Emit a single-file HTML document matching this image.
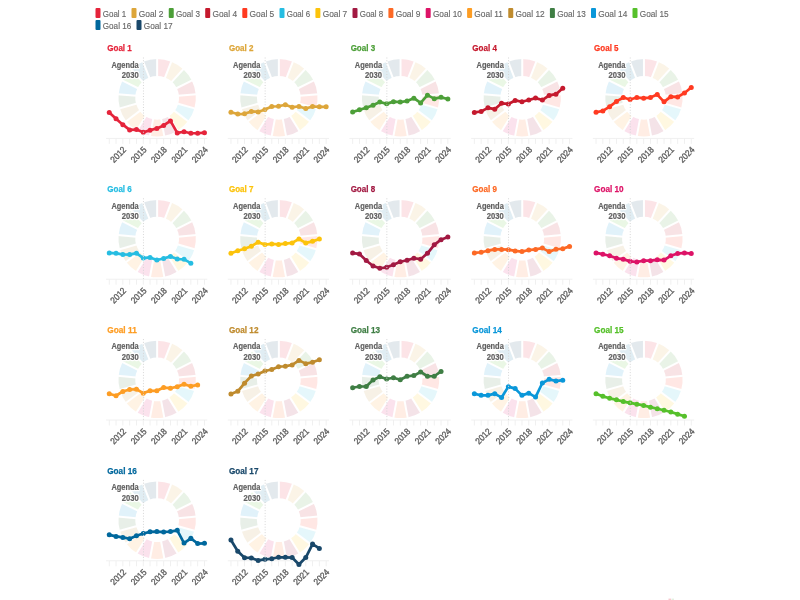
<!DOCTYPE html><html><head><meta charset="utf-8"><style>
html,body{margin:0;padding:0;background:#fff;width:800px;height:600px;overflow:hidden}
svg{display:block;filter:blur(0.45px)}
text{font-family:"Liberation Sans",sans-serif}
.ti{font-size:9px;font-weight:bold;stroke-width:0.25px}
.agh{font-size:8.6px;font-weight:bold;fill:#fff;stroke:#fff;stroke-width:2.5px;stroke-linejoin:round}
.ag{font-size:8.6px;font-weight:bold;fill:#626262;stroke:#626262;stroke-width:0.2px}
.yl{font-size:9px;fill:#5e5e5e;stroke:#5e5e5e;stroke-width:0.35px}
.lg{font-size:9.6px;fill:#686868;stroke:#686868;stroke-width:0.15px}
</style></head><body><svg width="800" height="600" viewBox="0 0 800 600"><rect x="95.5" y="8" width="5" height="10" rx="1" fill="#E5243B"/><text class="lg" x="102.75" y="17.2" textLength="23.5" lengthAdjust="spacingAndGlyphs">Goal 1</text><rect x="131.5" y="8" width="5" height="10" rx="1" fill="#DDA63A"/><text class="lg" x="138.75" y="17.2" textLength="24.75" lengthAdjust="spacingAndGlyphs">Goal 2</text><rect x="168.75" y="8" width="5" height="10" rx="1" fill="#4C9F38"/><text class="lg" x="176" y="17.2" textLength="23.95" lengthAdjust="spacingAndGlyphs">Goal 3</text><rect x="205.2" y="8" width="5" height="10" rx="1" fill="#C5192D"/><text class="lg" x="212.45" y="17.2" textLength="24.6" lengthAdjust="spacingAndGlyphs">Goal 4</text><rect x="242.3" y="8" width="5" height="10" rx="1" fill="#FF3A21"/><text class="lg" x="249.55" y="17.2" textLength="24.7" lengthAdjust="spacingAndGlyphs">Goal 5</text><rect x="279.5" y="8" width="5" height="10" rx="1" fill="#26BDE2"/><text class="lg" x="286.75" y="17.2" textLength="23.4" lengthAdjust="spacingAndGlyphs">Goal 6</text><rect x="315.4" y="8" width="5" height="10" rx="1" fill="#FCC30B"/><text class="lg" x="322.65" y="17.2" textLength="24.6" lengthAdjust="spacingAndGlyphs">Goal 7</text><rect x="352.5" y="8" width="5" height="10" rx="1" fill="#A21942"/><text class="lg" x="359.75" y="17.2" textLength="23.4" lengthAdjust="spacingAndGlyphs">Goal 8</text><rect x="388.4" y="8" width="5" height="10" rx="1" fill="#FD6925"/><text class="lg" x="395.65" y="17.2" textLength="24.8" lengthAdjust="spacingAndGlyphs">Goal 9</text><rect x="425.7" y="8" width="5" height="10" rx="1" fill="#DD1367"/><text class="lg" x="432.95" y="17.2" textLength="28.9" lengthAdjust="spacingAndGlyphs">Goal 10</text><rect x="467.1" y="8" width="5" height="10" rx="1" fill="#FD9D24"/><text class="lg" x="474.35" y="17.2" textLength="28.65" lengthAdjust="spacingAndGlyphs">Goal 11</text><rect x="508.25" y="8" width="5" height="10" rx="1" fill="#BF8B2E"/><text class="lg" x="515.5" y="17.2" textLength="29.15" lengthAdjust="spacingAndGlyphs">Goal 12</text><rect x="549.9" y="8" width="5" height="10" rx="1" fill="#3F7E44"/><text class="lg" x="557.15" y="17.2" textLength="28.6" lengthAdjust="spacingAndGlyphs">Goal 13</text><rect x="591" y="8" width="5" height="10" rx="1" fill="#0A97D9"/><text class="lg" x="598.25" y="17.2" textLength="29" lengthAdjust="spacingAndGlyphs">Goal 14</text><rect x="632.5" y="8" width="5" height="10" rx="1" fill="#56C02B"/><text class="lg" x="639.75" y="17.2" textLength="28.9" lengthAdjust="spacingAndGlyphs">Goal 15</text><rect x="95.5" y="20" width="5" height="10" rx="1" fill="#00689D"/><text class="lg" x="102.75" y="29.2" textLength="28.5" lengthAdjust="spacingAndGlyphs">Goal 16</text><rect x="136.5" y="20" width="5" height="10" rx="1" fill="#19486A"/><text class="lg" x="143.75" y="29.2" textLength="28.9" lengthAdjust="spacingAndGlyphs">Goal 17</text><path d="M157.15 59.1A38.7 38.7 0 0 1 171.13 61.71L165.06 77.38A21.9 21.9 0 0 0 157.15 75.9Z" fill="#E5243B" fill-opacity="0.12"/><path d="M171.13 61.71A38.7 38.7 0 0 1 183.22 69.2L171.9 81.62A21.9 21.9 0 0 0 165.06 77.38Z" fill="#DDA63A" fill-opacity="0.12"/><path d="M183.22 69.2A38.7 38.7 0 0 1 191.79 80.55L176.75 88.04A21.9 21.9 0 0 0 171.9 81.62Z" fill="#4C9F38" fill-opacity="0.12"/><path d="M191.79 80.55A38.7 38.7 0 0 1 195.68 94.23L178.96 95.78A21.9 21.9 0 0 0 176.75 88.04Z" fill="#C5192D" fill-opacity="0.12"/><path d="M195.68 94.23A38.7 38.7 0 0 1 194.37 108.39L178.21 103.79A21.9 21.9 0 0 0 178.96 95.78Z" fill="#FF3A21" fill-opacity="0.12"/><path d="M194.37 108.39A38.7 38.7 0 0 1 188.03 121.12L174.63 111A21.9 21.9 0 0 0 178.21 103.79Z" fill="#26BDE2" fill-opacity="0.12"/><path d="M188.03 121.12A38.7 38.7 0 0 1 177.52 130.7L168.68 116.42A21.9 21.9 0 0 0 174.63 111Z" fill="#FCC30B" fill-opacity="0.12"/><path d="M177.52 130.7A38.7 38.7 0 0 1 164.26 135.84L161.17 119.33A21.9 21.9 0 0 0 168.68 116.42Z" fill="#A21942" fill-opacity="0.12"/><path d="M164.26 135.84A38.7 38.7 0 0 1 150.04 135.84L153.13 119.33A21.9 21.9 0 0 0 161.17 119.33Z" fill="#FD6925" fill-opacity="0.12"/><path d="M150.04 135.84A38.7 38.7 0 0 1 136.78 130.7L145.62 116.42A21.9 21.9 0 0 0 153.13 119.33Z" fill="#DD1367" fill-opacity="0.12"/><path d="M136.78 130.7A38.7 38.7 0 0 1 126.27 121.12L139.67 111A21.9 21.9 0 0 0 145.62 116.42Z" fill="#FD9D24" fill-opacity="0.12"/><path d="M126.27 121.12A38.7 38.7 0 0 1 119.93 108.39L136.09 103.79A21.9 21.9 0 0 0 139.67 111Z" fill="#BF8B2E" fill-opacity="0.12"/><path d="M119.93 108.39A38.7 38.7 0 0 1 118.62 94.23L135.34 95.78A21.9 21.9 0 0 0 136.09 103.79Z" fill="#3F7E44" fill-opacity="0.12"/><path d="M118.62 94.23A38.7 38.7 0 0 1 122.51 80.55L137.55 88.04A21.9 21.9 0 0 0 135.34 95.78Z" fill="#0A97D9" fill-opacity="0.12"/><path d="M122.51 80.55A38.7 38.7 0 0 1 131.08 69.2L142.4 81.62A21.9 21.9 0 0 0 137.55 88.04Z" fill="#56C02B" fill-opacity="0.12"/><path d="M131.08 69.2A38.7 38.7 0 0 1 143.17 61.71L149.24 77.38A21.9 21.9 0 0 0 142.4 81.62Z" fill="#00689D" fill-opacity="0.12"/><path d="M143.17 61.71A38.7 38.7 0 0 1 157.15 59.1L157.15 75.9A21.9 21.9 0 0 0 149.24 77.38Z" fill="#19486A" fill-opacity="0.12"/><line x1="157.15" y1="76.9" x2="157.15" y2="58.1" stroke="#fff" stroke-width="2.0"/><line x1="164.7" y1="78.31" x2="171.49" y2="60.78" stroke="#fff" stroke-width="2.0"/><line x1="171.23" y1="82.35" x2="183.9" y2="68.46" stroke="#fff" stroke-width="2.0"/><line x1="175.86" y1="88.48" x2="192.69" y2="80.1" stroke="#fff" stroke-width="2.0"/><line x1="177.96" y1="95.87" x2="196.68" y2="94.14" stroke="#fff" stroke-width="2.0"/><line x1="177.25" y1="103.52" x2="195.33" y2="108.66" stroke="#fff" stroke-width="2.0"/><line x1="173.83" y1="110.4" x2="188.83" y2="121.72" stroke="#fff" stroke-width="2.0"/><line x1="168.15" y1="115.57" x2="178.05" y2="131.55" stroke="#fff" stroke-width="2.0"/><line x1="160.99" y1="118.34" x2="164.44" y2="136.82" stroke="#fff" stroke-width="2.0"/><line x1="153.31" y1="118.34" x2="149.86" y2="136.82" stroke="#fff" stroke-width="2.0"/><line x1="146.15" y1="115.57" x2="136.25" y2="131.55" stroke="#fff" stroke-width="2.0"/><line x1="140.47" y1="110.4" x2="125.47" y2="121.72" stroke="#fff" stroke-width="2.0"/><line x1="137.05" y1="103.52" x2="118.97" y2="108.66" stroke="#fff" stroke-width="2.0"/><line x1="136.34" y1="95.87" x2="117.62" y2="94.14" stroke="#fff" stroke-width="2.0"/><line x1="138.44" y1="88.48" x2="121.61" y2="80.1" stroke="#fff" stroke-width="2.0"/><line x1="143.07" y1="82.35" x2="130.4" y2="68.46" stroke="#fff" stroke-width="2.0"/><line x1="149.6" y1="78.31" x2="142.81" y2="60.78" stroke="#fff" stroke-width="2.0"/><line x1="106.05" y1="138.4" x2="207.35" y2="138.4" stroke="#f0f0f0" stroke-width="1"/><line x1="109.25" y1="138.4" x2="109.25" y2="143.9" stroke="#f0f0f0" stroke-width="1"/><line x1="116.05" y1="138.4" x2="116.05" y2="143.9" stroke="#f0f0f0" stroke-width="1"/><line x1="122.85" y1="138.4" x2="122.85" y2="143.9" stroke="#f0f0f0" stroke-width="1"/><line x1="129.65" y1="138.4" x2="129.65" y2="143.9" stroke="#f0f0f0" stroke-width="1"/><line x1="136.45" y1="138.4" x2="136.45" y2="143.9" stroke="#f0f0f0" stroke-width="1"/><line x1="143.25" y1="138.4" x2="143.25" y2="143.9" stroke="#f0f0f0" stroke-width="1"/><line x1="150.05" y1="138.4" x2="150.05" y2="143.9" stroke="#f0f0f0" stroke-width="1"/><line x1="156.85" y1="138.4" x2="156.85" y2="143.9" stroke="#f0f0f0" stroke-width="1"/><line x1="163.65" y1="138.4" x2="163.65" y2="143.9" stroke="#f0f0f0" stroke-width="1"/><line x1="170.45" y1="138.4" x2="170.45" y2="143.9" stroke="#f0f0f0" stroke-width="1"/><line x1="177.25" y1="138.4" x2="177.25" y2="143.9" stroke="#f0f0f0" stroke-width="1"/><line x1="184.05" y1="138.4" x2="184.05" y2="143.9" stroke="#f0f0f0" stroke-width="1"/><line x1="190.85" y1="138.4" x2="190.85" y2="143.9" stroke="#f0f0f0" stroke-width="1"/><line x1="197.65" y1="138.4" x2="197.65" y2="143.9" stroke="#f0f0f0" stroke-width="1"/><line x1="204.45" y1="138.4" x2="204.45" y2="143.9" stroke="#f0f0f0" stroke-width="1"/><text class="yl" text-anchor="end" textLength="18" lengthAdjust="spacingAndGlyphs" transform="translate(126.75 150.4) rotate(-45)">2012</text><text class="yl" text-anchor="end" textLength="18" lengthAdjust="spacingAndGlyphs" transform="translate(147.15 150.4) rotate(-45)">2015</text><text class="yl" text-anchor="end" textLength="18" lengthAdjust="spacingAndGlyphs" transform="translate(167.55 150.4) rotate(-45)">2018</text><text class="yl" text-anchor="end" textLength="18" lengthAdjust="spacingAndGlyphs" transform="translate(187.95 150.4) rotate(-45)">2021</text><text class="yl" text-anchor="end" textLength="18" lengthAdjust="spacingAndGlyphs" transform="translate(208.35 150.4) rotate(-45)">2024</text><polyline points="109.25,112.4 116.05,118.7 122.85,124.65 129.65,129.9 136.45,129.55 143.25,132.35 150.05,130.25 156.85,128.4 163.65,125.4 170.45,120.9 177.25,132.9 184.05,131.75 190.85,133.25 197.65,133.25 204.45,132.7" fill="none" stroke="#E5243B" stroke-width="2.7" stroke-linejoin="round" stroke-linecap="round"/><circle cx="109.25" cy="112.4" r="2.5" fill="#E5243B"/><circle cx="116.05" cy="118.7" r="2.5" fill="#E5243B"/><circle cx="122.85" cy="124.65" r="2.5" fill="#E5243B"/><circle cx="129.65" cy="129.9" r="2.5" fill="#E5243B"/><circle cx="136.45" cy="129.55" r="2.5" fill="#E5243B"/><circle cx="143.25" cy="132.35" r="2.5" fill="#E5243B"/><circle cx="150.05" cy="130.25" r="2.5" fill="#E5243B"/><circle cx="156.85" cy="128.4" r="2.5" fill="#E5243B"/><circle cx="163.65" cy="125.4" r="2.5" fill="#E5243B"/><circle cx="170.45" cy="120.9" r="2.5" fill="#E5243B"/><circle cx="177.25" cy="132.9" r="2.5" fill="#E5243B"/><circle cx="184.05" cy="131.75" r="2.5" fill="#E5243B"/><circle cx="190.85" cy="133.25" r="2.5" fill="#E5243B"/><circle cx="197.65" cy="133.25" r="2.5" fill="#E5243B"/><circle cx="204.45" cy="132.7" r="2.5" fill="#E5243B"/><line x1="143.45" y1="57.5" x2="143.45" y2="138.4" stroke="#d6d6d6" stroke-width="1" stroke-dasharray="1 1.75"/><text class="agh" text-anchor="end" x="138.7" y="67.8" textLength="27.3" lengthAdjust="spacingAndGlyphs">Agenda</text><text class="agh" text-anchor="end" x="138.7" y="78.2" textLength="17" lengthAdjust="spacingAndGlyphs">2030</text><text class="ag" text-anchor="end" x="138.7" y="67.8" textLength="27.3" lengthAdjust="spacingAndGlyphs">Agenda</text><text class="ag" text-anchor="end" x="138.7" y="78.2" textLength="17" lengthAdjust="spacingAndGlyphs">2030</text><text class="ti" x="107.25" y="51.4" fill="#E5243B" stroke="#E5243B" textLength="24.5" lengthAdjust="spacingAndGlyphs">Goal 1</text><path d="M278.85 59.1A38.7 38.7 0 0 1 292.83 61.71L286.76 77.38A21.9 21.9 0 0 0 278.85 75.9Z" fill="#E5243B" fill-opacity="0.12"/><path d="M292.83 61.71A38.7 38.7 0 0 1 304.92 69.2L293.6 81.62A21.9 21.9 0 0 0 286.76 77.38Z" fill="#DDA63A" fill-opacity="0.12"/><path d="M304.92 69.2A38.7 38.7 0 0 1 313.49 80.55L298.45 88.04A21.9 21.9 0 0 0 293.6 81.62Z" fill="#4C9F38" fill-opacity="0.12"/><path d="M313.49 80.55A38.7 38.7 0 0 1 317.38 94.23L300.66 95.78A21.9 21.9 0 0 0 298.45 88.04Z" fill="#C5192D" fill-opacity="0.12"/><path d="M317.38 94.23A38.7 38.7 0 0 1 316.07 108.39L299.91 103.79A21.9 21.9 0 0 0 300.66 95.78Z" fill="#FF3A21" fill-opacity="0.12"/><path d="M316.07 108.39A38.7 38.7 0 0 1 309.73 121.12L296.33 111A21.9 21.9 0 0 0 299.91 103.79Z" fill="#26BDE2" fill-opacity="0.12"/><path d="M309.73 121.12A38.7 38.7 0 0 1 299.22 130.7L290.38 116.42A21.9 21.9 0 0 0 296.33 111Z" fill="#FCC30B" fill-opacity="0.12"/><path d="M299.22 130.7A38.7 38.7 0 0 1 285.96 135.84L282.87 119.33A21.9 21.9 0 0 0 290.38 116.42Z" fill="#A21942" fill-opacity="0.12"/><path d="M285.96 135.84A38.7 38.7 0 0 1 271.74 135.84L274.83 119.33A21.9 21.9 0 0 0 282.87 119.33Z" fill="#FD6925" fill-opacity="0.12"/><path d="M271.74 135.84A38.7 38.7 0 0 1 258.48 130.7L267.32 116.42A21.9 21.9 0 0 0 274.83 119.33Z" fill="#DD1367" fill-opacity="0.12"/><path d="M258.48 130.7A38.7 38.7 0 0 1 247.97 121.12L261.37 111A21.9 21.9 0 0 0 267.32 116.42Z" fill="#FD9D24" fill-opacity="0.12"/><path d="M247.97 121.12A38.7 38.7 0 0 1 241.63 108.39L257.79 103.79A21.9 21.9 0 0 0 261.37 111Z" fill="#BF8B2E" fill-opacity="0.12"/><path d="M241.63 108.39A38.7 38.7 0 0 1 240.32 94.23L257.04 95.78A21.9 21.9 0 0 0 257.79 103.79Z" fill="#3F7E44" fill-opacity="0.12"/><path d="M240.32 94.23A38.7 38.7 0 0 1 244.21 80.55L259.25 88.04A21.9 21.9 0 0 0 257.04 95.78Z" fill="#0A97D9" fill-opacity="0.12"/><path d="M244.21 80.55A38.7 38.7 0 0 1 252.78 69.2L264.1 81.62A21.9 21.9 0 0 0 259.25 88.04Z" fill="#56C02B" fill-opacity="0.12"/><path d="M252.78 69.2A38.7 38.7 0 0 1 264.87 61.71L270.94 77.38A21.9 21.9 0 0 0 264.1 81.62Z" fill="#00689D" fill-opacity="0.12"/><path d="M264.87 61.71A38.7 38.7 0 0 1 278.85 59.1L278.85 75.9A21.9 21.9 0 0 0 270.94 77.38Z" fill="#19486A" fill-opacity="0.12"/><line x1="278.85" y1="76.9" x2="278.85" y2="58.1" stroke="#fff" stroke-width="2.0"/><line x1="286.4" y1="78.31" x2="293.19" y2="60.78" stroke="#fff" stroke-width="2.0"/><line x1="292.93" y1="82.35" x2="305.6" y2="68.46" stroke="#fff" stroke-width="2.0"/><line x1="297.56" y1="88.48" x2="314.39" y2="80.1" stroke="#fff" stroke-width="2.0"/><line x1="299.66" y1="95.87" x2="318.38" y2="94.14" stroke="#fff" stroke-width="2.0"/><line x1="298.95" y1="103.52" x2="317.03" y2="108.66" stroke="#fff" stroke-width="2.0"/><line x1="295.53" y1="110.4" x2="310.53" y2="121.72" stroke="#fff" stroke-width="2.0"/><line x1="289.85" y1="115.57" x2="299.75" y2="131.55" stroke="#fff" stroke-width="2.0"/><line x1="282.69" y1="118.34" x2="286.14" y2="136.82" stroke="#fff" stroke-width="2.0"/><line x1="275.01" y1="118.34" x2="271.56" y2="136.82" stroke="#fff" stroke-width="2.0"/><line x1="267.85" y1="115.57" x2="257.95" y2="131.55" stroke="#fff" stroke-width="2.0"/><line x1="262.17" y1="110.4" x2="247.17" y2="121.72" stroke="#fff" stroke-width="2.0"/><line x1="258.75" y1="103.52" x2="240.67" y2="108.66" stroke="#fff" stroke-width="2.0"/><line x1="258.04" y1="95.87" x2="239.32" y2="94.14" stroke="#fff" stroke-width="2.0"/><line x1="260.14" y1="88.48" x2="243.31" y2="80.1" stroke="#fff" stroke-width="2.0"/><line x1="264.77" y1="82.35" x2="252.1" y2="68.46" stroke="#fff" stroke-width="2.0"/><line x1="271.3" y1="78.31" x2="264.51" y2="60.78" stroke="#fff" stroke-width="2.0"/><line x1="227.75" y1="138.4" x2="329.05" y2="138.4" stroke="#f0f0f0" stroke-width="1"/><line x1="230.95" y1="138.4" x2="230.95" y2="143.9" stroke="#f0f0f0" stroke-width="1"/><line x1="237.75" y1="138.4" x2="237.75" y2="143.9" stroke="#f0f0f0" stroke-width="1"/><line x1="244.55" y1="138.4" x2="244.55" y2="143.9" stroke="#f0f0f0" stroke-width="1"/><line x1="251.35" y1="138.4" x2="251.35" y2="143.9" stroke="#f0f0f0" stroke-width="1"/><line x1="258.15" y1="138.4" x2="258.15" y2="143.9" stroke="#f0f0f0" stroke-width="1"/><line x1="264.95" y1="138.4" x2="264.95" y2="143.9" stroke="#f0f0f0" stroke-width="1"/><line x1="271.75" y1="138.4" x2="271.75" y2="143.9" stroke="#f0f0f0" stroke-width="1"/><line x1="278.55" y1="138.4" x2="278.55" y2="143.9" stroke="#f0f0f0" stroke-width="1"/><line x1="285.35" y1="138.4" x2="285.35" y2="143.9" stroke="#f0f0f0" stroke-width="1"/><line x1="292.15" y1="138.4" x2="292.15" y2="143.9" stroke="#f0f0f0" stroke-width="1"/><line x1="298.95" y1="138.4" x2="298.95" y2="143.9" stroke="#f0f0f0" stroke-width="1"/><line x1="305.75" y1="138.4" x2="305.75" y2="143.9" stroke="#f0f0f0" stroke-width="1"/><line x1="312.55" y1="138.4" x2="312.55" y2="143.9" stroke="#f0f0f0" stroke-width="1"/><line x1="319.35" y1="138.4" x2="319.35" y2="143.9" stroke="#f0f0f0" stroke-width="1"/><line x1="326.15" y1="138.4" x2="326.15" y2="143.9" stroke="#f0f0f0" stroke-width="1"/><text class="yl" text-anchor="end" textLength="18" lengthAdjust="spacingAndGlyphs" transform="translate(248.45 150.4) rotate(-45)">2012</text><text class="yl" text-anchor="end" textLength="18" lengthAdjust="spacingAndGlyphs" transform="translate(268.85 150.4) rotate(-45)">2015</text><text class="yl" text-anchor="end" textLength="18" lengthAdjust="spacingAndGlyphs" transform="translate(289.25 150.4) rotate(-45)">2018</text><text class="yl" text-anchor="end" textLength="18" lengthAdjust="spacingAndGlyphs" transform="translate(309.65 150.4) rotate(-45)">2021</text><text class="yl" text-anchor="end" textLength="18" lengthAdjust="spacingAndGlyphs" transform="translate(330.05 150.4) rotate(-45)">2024</text><polyline points="230.95,112.25 237.75,114.05 244.55,113.85 251.35,111.4 258.15,111.95 264.95,109.45 271.75,106.5 278.55,106.25 285.35,104.75 292.15,107.2 298.95,106.5 305.75,108.45 312.55,106.5 319.35,106.85 326.15,106.85" fill="none" stroke="#DDA63A" stroke-width="2.7" stroke-linejoin="round" stroke-linecap="round"/><circle cx="230.95" cy="112.25" r="2.5" fill="#DDA63A"/><circle cx="237.75" cy="114.05" r="2.5" fill="#DDA63A"/><circle cx="244.55" cy="113.85" r="2.5" fill="#DDA63A"/><circle cx="251.35" cy="111.4" r="2.5" fill="#DDA63A"/><circle cx="258.15" cy="111.95" r="2.5" fill="#DDA63A"/><circle cx="264.95" cy="109.45" r="2.5" fill="#DDA63A"/><circle cx="271.75" cy="106.5" r="2.5" fill="#DDA63A"/><circle cx="278.55" cy="106.25" r="2.5" fill="#DDA63A"/><circle cx="285.35" cy="104.75" r="2.5" fill="#DDA63A"/><circle cx="292.15" cy="107.2" r="2.5" fill="#DDA63A"/><circle cx="298.95" cy="106.5" r="2.5" fill="#DDA63A"/><circle cx="305.75" cy="108.45" r="2.5" fill="#DDA63A"/><circle cx="312.55" cy="106.5" r="2.5" fill="#DDA63A"/><circle cx="319.35" cy="106.85" r="2.5" fill="#DDA63A"/><circle cx="326.15" cy="106.85" r="2.5" fill="#DDA63A"/><line x1="265.15" y1="57.5" x2="265.15" y2="138.4" stroke="#d6d6d6" stroke-width="1" stroke-dasharray="1 1.75"/><text class="agh" text-anchor="end" x="260.4" y="67.8" textLength="27.3" lengthAdjust="spacingAndGlyphs">Agenda</text><text class="agh" text-anchor="end" x="260.4" y="78.2" textLength="17" lengthAdjust="spacingAndGlyphs">2030</text><text class="ag" text-anchor="end" x="260.4" y="67.8" textLength="27.3" lengthAdjust="spacingAndGlyphs">Agenda</text><text class="ag" text-anchor="end" x="260.4" y="78.2" textLength="17" lengthAdjust="spacingAndGlyphs">2030</text><text class="ti" x="228.95" y="51.4" fill="#DDA63A" stroke="#DDA63A" textLength="24.5" lengthAdjust="spacingAndGlyphs">Goal 2</text><path d="M400.55 59.1A38.7 38.7 0 0 1 414.53 61.71L408.46 77.38A21.9 21.9 0 0 0 400.55 75.9Z" fill="#E5243B" fill-opacity="0.12"/><path d="M414.53 61.71A38.7 38.7 0 0 1 426.62 69.2L415.3 81.62A21.9 21.9 0 0 0 408.46 77.38Z" fill="#DDA63A" fill-opacity="0.12"/><path d="M426.62 69.2A38.7 38.7 0 0 1 435.19 80.55L420.15 88.04A21.9 21.9 0 0 0 415.3 81.62Z" fill="#4C9F38" fill-opacity="0.12"/><path d="M435.19 80.55A38.7 38.7 0 0 1 439.08 94.23L422.36 95.78A21.9 21.9 0 0 0 420.15 88.04Z" fill="#C5192D" fill-opacity="0.12"/><path d="M439.08 94.23A38.7 38.7 0 0 1 437.77 108.39L421.61 103.79A21.9 21.9 0 0 0 422.36 95.78Z" fill="#FF3A21" fill-opacity="0.12"/><path d="M437.77 108.39A38.7 38.7 0 0 1 431.43 121.12L418.03 111A21.9 21.9 0 0 0 421.61 103.79Z" fill="#26BDE2" fill-opacity="0.12"/><path d="M431.43 121.12A38.7 38.7 0 0 1 420.92 130.7L412.08 116.42A21.9 21.9 0 0 0 418.03 111Z" fill="#FCC30B" fill-opacity="0.12"/><path d="M420.92 130.7A38.7 38.7 0 0 1 407.66 135.84L404.57 119.33A21.9 21.9 0 0 0 412.08 116.42Z" fill="#A21942" fill-opacity="0.12"/><path d="M407.66 135.84A38.7 38.7 0 0 1 393.44 135.84L396.53 119.33A21.9 21.9 0 0 0 404.57 119.33Z" fill="#FD6925" fill-opacity="0.12"/><path d="M393.44 135.84A38.7 38.7 0 0 1 380.18 130.7L389.02 116.42A21.9 21.9 0 0 0 396.53 119.33Z" fill="#DD1367" fill-opacity="0.12"/><path d="M380.18 130.7A38.7 38.7 0 0 1 369.67 121.12L383.07 111A21.9 21.9 0 0 0 389.02 116.42Z" fill="#FD9D24" fill-opacity="0.12"/><path d="M369.67 121.12A38.7 38.7 0 0 1 363.33 108.39L379.49 103.79A21.9 21.9 0 0 0 383.07 111Z" fill="#BF8B2E" fill-opacity="0.12"/><path d="M363.33 108.39A38.7 38.7 0 0 1 362.02 94.23L378.74 95.78A21.9 21.9 0 0 0 379.49 103.79Z" fill="#3F7E44" fill-opacity="0.12"/><path d="M362.02 94.23A38.7 38.7 0 0 1 365.91 80.55L380.95 88.04A21.9 21.9 0 0 0 378.74 95.78Z" fill="#0A97D9" fill-opacity="0.12"/><path d="M365.91 80.55A38.7 38.7 0 0 1 374.48 69.2L385.8 81.62A21.9 21.9 0 0 0 380.95 88.04Z" fill="#56C02B" fill-opacity="0.12"/><path d="M374.48 69.2A38.7 38.7 0 0 1 386.57 61.71L392.64 77.38A21.9 21.9 0 0 0 385.8 81.62Z" fill="#00689D" fill-opacity="0.12"/><path d="M386.57 61.71A38.7 38.7 0 0 1 400.55 59.1L400.55 75.9A21.9 21.9 0 0 0 392.64 77.38Z" fill="#19486A" fill-opacity="0.12"/><line x1="400.55" y1="76.9" x2="400.55" y2="58.1" stroke="#fff" stroke-width="2.0"/><line x1="408.1" y1="78.31" x2="414.89" y2="60.78" stroke="#fff" stroke-width="2.0"/><line x1="414.63" y1="82.35" x2="427.3" y2="68.46" stroke="#fff" stroke-width="2.0"/><line x1="419.26" y1="88.48" x2="436.09" y2="80.1" stroke="#fff" stroke-width="2.0"/><line x1="421.36" y1="95.87" x2="440.08" y2="94.14" stroke="#fff" stroke-width="2.0"/><line x1="420.65" y1="103.52" x2="438.73" y2="108.66" stroke="#fff" stroke-width="2.0"/><line x1="417.23" y1="110.4" x2="432.23" y2="121.72" stroke="#fff" stroke-width="2.0"/><line x1="411.55" y1="115.57" x2="421.45" y2="131.55" stroke="#fff" stroke-width="2.0"/><line x1="404.39" y1="118.34" x2="407.84" y2="136.82" stroke="#fff" stroke-width="2.0"/><line x1="396.71" y1="118.34" x2="393.26" y2="136.82" stroke="#fff" stroke-width="2.0"/><line x1="389.55" y1="115.57" x2="379.65" y2="131.55" stroke="#fff" stroke-width="2.0"/><line x1="383.87" y1="110.4" x2="368.87" y2="121.72" stroke="#fff" stroke-width="2.0"/><line x1="380.45" y1="103.52" x2="362.37" y2="108.66" stroke="#fff" stroke-width="2.0"/><line x1="379.74" y1="95.87" x2="361.02" y2="94.14" stroke="#fff" stroke-width="2.0"/><line x1="381.84" y1="88.48" x2="365.01" y2="80.1" stroke="#fff" stroke-width="2.0"/><line x1="386.47" y1="82.35" x2="373.8" y2="68.46" stroke="#fff" stroke-width="2.0"/><line x1="393" y1="78.31" x2="386.21" y2="60.78" stroke="#fff" stroke-width="2.0"/><line x1="349.45" y1="138.4" x2="450.75" y2="138.4" stroke="#f0f0f0" stroke-width="1"/><line x1="352.65" y1="138.4" x2="352.65" y2="143.9" stroke="#f0f0f0" stroke-width="1"/><line x1="359.45" y1="138.4" x2="359.45" y2="143.9" stroke="#f0f0f0" stroke-width="1"/><line x1="366.25" y1="138.4" x2="366.25" y2="143.9" stroke="#f0f0f0" stroke-width="1"/><line x1="373.05" y1="138.4" x2="373.05" y2="143.9" stroke="#f0f0f0" stroke-width="1"/><line x1="379.85" y1="138.4" x2="379.85" y2="143.9" stroke="#f0f0f0" stroke-width="1"/><line x1="386.65" y1="138.4" x2="386.65" y2="143.9" stroke="#f0f0f0" stroke-width="1"/><line x1="393.45" y1="138.4" x2="393.45" y2="143.9" stroke="#f0f0f0" stroke-width="1"/><line x1="400.25" y1="138.4" x2="400.25" y2="143.9" stroke="#f0f0f0" stroke-width="1"/><line x1="407.05" y1="138.4" x2="407.05" y2="143.9" stroke="#f0f0f0" stroke-width="1"/><line x1="413.85" y1="138.4" x2="413.85" y2="143.9" stroke="#f0f0f0" stroke-width="1"/><line x1="420.65" y1="138.4" x2="420.65" y2="143.9" stroke="#f0f0f0" stroke-width="1"/><line x1="427.45" y1="138.4" x2="427.45" y2="143.9" stroke="#f0f0f0" stroke-width="1"/><line x1="434.25" y1="138.4" x2="434.25" y2="143.9" stroke="#f0f0f0" stroke-width="1"/><line x1="441.05" y1="138.4" x2="441.05" y2="143.9" stroke="#f0f0f0" stroke-width="1"/><line x1="447.85" y1="138.4" x2="447.85" y2="143.9" stroke="#f0f0f0" stroke-width="1"/><text class="yl" text-anchor="end" textLength="18" lengthAdjust="spacingAndGlyphs" transform="translate(370.15 150.4) rotate(-45)">2012</text><text class="yl" text-anchor="end" textLength="18" lengthAdjust="spacingAndGlyphs" transform="translate(390.55 150.4) rotate(-45)">2015</text><text class="yl" text-anchor="end" textLength="18" lengthAdjust="spacingAndGlyphs" transform="translate(410.95 150.4) rotate(-45)">2018</text><text class="yl" text-anchor="end" textLength="18" lengthAdjust="spacingAndGlyphs" transform="translate(431.35 150.4) rotate(-45)">2021</text><text class="yl" text-anchor="end" textLength="18" lengthAdjust="spacingAndGlyphs" transform="translate(451.75 150.4) rotate(-45)">2024</text><polyline points="352.65,112.05 359.45,109.85 366.25,107.8 373.05,105.3 379.85,102.05 386.65,103.85 393.45,101.65 400.25,102.05 407.05,101 413.85,98.15 420.65,102.95 427.45,95.15 434.25,98.65 441.05,97.35 447.85,99.05" fill="none" stroke="#4C9F38" stroke-width="2.7" stroke-linejoin="round" stroke-linecap="round"/><circle cx="352.65" cy="112.05" r="2.5" fill="#4C9F38"/><circle cx="359.45" cy="109.85" r="2.5" fill="#4C9F38"/><circle cx="366.25" cy="107.8" r="2.5" fill="#4C9F38"/><circle cx="373.05" cy="105.3" r="2.5" fill="#4C9F38"/><circle cx="379.85" cy="102.05" r="2.5" fill="#4C9F38"/><circle cx="386.65" cy="103.85" r="2.5" fill="#4C9F38"/><circle cx="393.45" cy="101.65" r="2.5" fill="#4C9F38"/><circle cx="400.25" cy="102.05" r="2.5" fill="#4C9F38"/><circle cx="407.05" cy="101" r="2.5" fill="#4C9F38"/><circle cx="413.85" cy="98.15" r="2.5" fill="#4C9F38"/><circle cx="420.65" cy="102.95" r="2.5" fill="#4C9F38"/><circle cx="427.45" cy="95.15" r="2.5" fill="#4C9F38"/><circle cx="434.25" cy="98.65" r="2.5" fill="#4C9F38"/><circle cx="441.05" cy="97.35" r="2.5" fill="#4C9F38"/><circle cx="447.85" cy="99.05" r="2.5" fill="#4C9F38"/><line x1="386.85" y1="57.5" x2="386.85" y2="138.4" stroke="#d6d6d6" stroke-width="1" stroke-dasharray="1 1.75"/><text class="agh" text-anchor="end" x="382.1" y="67.8" textLength="27.3" lengthAdjust="spacingAndGlyphs">Agenda</text><text class="agh" text-anchor="end" x="382.1" y="78.2" textLength="17" lengthAdjust="spacingAndGlyphs">2030</text><text class="ag" text-anchor="end" x="382.1" y="67.8" textLength="27.3" lengthAdjust="spacingAndGlyphs">Agenda</text><text class="ag" text-anchor="end" x="382.1" y="78.2" textLength="17" lengthAdjust="spacingAndGlyphs">2030</text><text class="ti" x="350.65" y="51.4" fill="#4C9F38" stroke="#4C9F38" textLength="24.5" lengthAdjust="spacingAndGlyphs">Goal 3</text><path d="M522.25 59.1A38.7 38.7 0 0 1 536.23 61.71L530.16 77.38A21.9 21.9 0 0 0 522.25 75.9Z" fill="#E5243B" fill-opacity="0.12"/><path d="M536.23 61.71A38.7 38.7 0 0 1 548.32 69.2L537 81.62A21.9 21.9 0 0 0 530.16 77.38Z" fill="#DDA63A" fill-opacity="0.12"/><path d="M548.32 69.2A38.7 38.7 0 0 1 556.89 80.55L541.85 88.04A21.9 21.9 0 0 0 537 81.62Z" fill="#4C9F38" fill-opacity="0.12"/><path d="M556.89 80.55A38.7 38.7 0 0 1 560.78 94.23L544.06 95.78A21.9 21.9 0 0 0 541.85 88.04Z" fill="#C5192D" fill-opacity="0.12"/><path d="M560.78 94.23A38.7 38.7 0 0 1 559.47 108.39L543.31 103.79A21.9 21.9 0 0 0 544.06 95.78Z" fill="#FF3A21" fill-opacity="0.12"/><path d="M559.47 108.39A38.7 38.7 0 0 1 553.13 121.12L539.73 111A21.9 21.9 0 0 0 543.31 103.79Z" fill="#26BDE2" fill-opacity="0.12"/><path d="M553.13 121.12A38.7 38.7 0 0 1 542.62 130.7L533.78 116.42A21.9 21.9 0 0 0 539.73 111Z" fill="#FCC30B" fill-opacity="0.12"/><path d="M542.62 130.7A38.7 38.7 0 0 1 529.36 135.84L526.27 119.33A21.9 21.9 0 0 0 533.78 116.42Z" fill="#A21942" fill-opacity="0.12"/><path d="M529.36 135.84A38.7 38.7 0 0 1 515.14 135.84L518.23 119.33A21.9 21.9 0 0 0 526.27 119.33Z" fill="#FD6925" fill-opacity="0.12"/><path d="M515.14 135.84A38.7 38.7 0 0 1 501.88 130.7L510.72 116.42A21.9 21.9 0 0 0 518.23 119.33Z" fill="#DD1367" fill-opacity="0.12"/><path d="M501.88 130.7A38.7 38.7 0 0 1 491.37 121.12L504.77 111A21.9 21.9 0 0 0 510.72 116.42Z" fill="#FD9D24" fill-opacity="0.12"/><path d="M491.37 121.12A38.7 38.7 0 0 1 485.03 108.39L501.19 103.79A21.9 21.9 0 0 0 504.77 111Z" fill="#BF8B2E" fill-opacity="0.12"/><path d="M485.03 108.39A38.7 38.7 0 0 1 483.72 94.23L500.44 95.78A21.9 21.9 0 0 0 501.19 103.79Z" fill="#3F7E44" fill-opacity="0.12"/><path d="M483.72 94.23A38.7 38.7 0 0 1 487.61 80.55L502.65 88.04A21.9 21.9 0 0 0 500.44 95.78Z" fill="#0A97D9" fill-opacity="0.12"/><path d="M487.61 80.55A38.7 38.7 0 0 1 496.18 69.2L507.5 81.62A21.9 21.9 0 0 0 502.65 88.04Z" fill="#56C02B" fill-opacity="0.12"/><path d="M496.18 69.2A38.7 38.7 0 0 1 508.27 61.71L514.34 77.38A21.9 21.9 0 0 0 507.5 81.62Z" fill="#00689D" fill-opacity="0.12"/><path d="M508.27 61.71A38.7 38.7 0 0 1 522.25 59.1L522.25 75.9A21.9 21.9 0 0 0 514.34 77.38Z" fill="#19486A" fill-opacity="0.12"/><line x1="522.25" y1="76.9" x2="522.25" y2="58.1" stroke="#fff" stroke-width="2.0"/><line x1="529.8" y1="78.31" x2="536.59" y2="60.78" stroke="#fff" stroke-width="2.0"/><line x1="536.33" y1="82.35" x2="549" y2="68.46" stroke="#fff" stroke-width="2.0"/><line x1="540.96" y1="88.48" x2="557.79" y2="80.1" stroke="#fff" stroke-width="2.0"/><line x1="543.06" y1="95.87" x2="561.78" y2="94.14" stroke="#fff" stroke-width="2.0"/><line x1="542.35" y1="103.52" x2="560.43" y2="108.66" stroke="#fff" stroke-width="2.0"/><line x1="538.93" y1="110.4" x2="553.93" y2="121.72" stroke="#fff" stroke-width="2.0"/><line x1="533.25" y1="115.57" x2="543.15" y2="131.55" stroke="#fff" stroke-width="2.0"/><line x1="526.09" y1="118.34" x2="529.54" y2="136.82" stroke="#fff" stroke-width="2.0"/><line x1="518.41" y1="118.34" x2="514.96" y2="136.82" stroke="#fff" stroke-width="2.0"/><line x1="511.25" y1="115.57" x2="501.35" y2="131.55" stroke="#fff" stroke-width="2.0"/><line x1="505.57" y1="110.4" x2="490.57" y2="121.72" stroke="#fff" stroke-width="2.0"/><line x1="502.15" y1="103.52" x2="484.07" y2="108.66" stroke="#fff" stroke-width="2.0"/><line x1="501.44" y1="95.87" x2="482.72" y2="94.14" stroke="#fff" stroke-width="2.0"/><line x1="503.54" y1="88.48" x2="486.71" y2="80.1" stroke="#fff" stroke-width="2.0"/><line x1="508.17" y1="82.35" x2="495.5" y2="68.46" stroke="#fff" stroke-width="2.0"/><line x1="514.7" y1="78.31" x2="507.91" y2="60.78" stroke="#fff" stroke-width="2.0"/><line x1="471.15" y1="138.4" x2="572.45" y2="138.4" stroke="#f0f0f0" stroke-width="1"/><line x1="474.35" y1="138.4" x2="474.35" y2="143.9" stroke="#f0f0f0" stroke-width="1"/><line x1="481.15" y1="138.4" x2="481.15" y2="143.9" stroke="#f0f0f0" stroke-width="1"/><line x1="487.95" y1="138.4" x2="487.95" y2="143.9" stroke="#f0f0f0" stroke-width="1"/><line x1="494.75" y1="138.4" x2="494.75" y2="143.9" stroke="#f0f0f0" stroke-width="1"/><line x1="501.55" y1="138.4" x2="501.55" y2="143.9" stroke="#f0f0f0" stroke-width="1"/><line x1="508.35" y1="138.4" x2="508.35" y2="143.9" stroke="#f0f0f0" stroke-width="1"/><line x1="515.15" y1="138.4" x2="515.15" y2="143.9" stroke="#f0f0f0" stroke-width="1"/><line x1="521.95" y1="138.4" x2="521.95" y2="143.9" stroke="#f0f0f0" stroke-width="1"/><line x1="528.75" y1="138.4" x2="528.75" y2="143.9" stroke="#f0f0f0" stroke-width="1"/><line x1="535.55" y1="138.4" x2="535.55" y2="143.9" stroke="#f0f0f0" stroke-width="1"/><line x1="542.35" y1="138.4" x2="542.35" y2="143.9" stroke="#f0f0f0" stroke-width="1"/><line x1="549.15" y1="138.4" x2="549.15" y2="143.9" stroke="#f0f0f0" stroke-width="1"/><line x1="555.95" y1="138.4" x2="555.95" y2="143.9" stroke="#f0f0f0" stroke-width="1"/><line x1="562.75" y1="138.4" x2="562.75" y2="143.9" stroke="#f0f0f0" stroke-width="1"/><line x1="569.55" y1="138.4" x2="569.55" y2="143.9" stroke="#f0f0f0" stroke-width="1"/><text class="yl" text-anchor="end" textLength="18" lengthAdjust="spacingAndGlyphs" transform="translate(491.85 150.4) rotate(-45)">2012</text><text class="yl" text-anchor="end" textLength="18" lengthAdjust="spacingAndGlyphs" transform="translate(512.25 150.4) rotate(-45)">2015</text><text class="yl" text-anchor="end" textLength="18" lengthAdjust="spacingAndGlyphs" transform="translate(532.65 150.4) rotate(-45)">2018</text><text class="yl" text-anchor="end" textLength="18" lengthAdjust="spacingAndGlyphs" transform="translate(553.05 150.4) rotate(-45)">2021</text><text class="yl" text-anchor="end" textLength="18" lengthAdjust="spacingAndGlyphs" transform="translate(573.45 150.4) rotate(-45)">2024</text><polyline points="474.35,112.4 481.15,111.5 487.95,107.85 494.75,109.15 501.55,103.3 508.35,103.95 515.15,100.45 521.95,101.75 528.75,100.05 535.55,98.1 542.35,100.05 549.15,95.4 555.95,94.15 562.75,88.3" fill="none" stroke="#C5192D" stroke-width="2.7" stroke-linejoin="round" stroke-linecap="round"/><circle cx="474.35" cy="112.4" r="2.5" fill="#C5192D"/><circle cx="481.15" cy="111.5" r="2.5" fill="#C5192D"/><circle cx="487.95" cy="107.85" r="2.5" fill="#C5192D"/><circle cx="494.75" cy="109.15" r="2.5" fill="#C5192D"/><circle cx="501.55" cy="103.3" r="2.5" fill="#C5192D"/><circle cx="508.35" cy="103.95" r="2.5" fill="#C5192D"/><circle cx="515.15" cy="100.45" r="2.5" fill="#C5192D"/><circle cx="521.95" cy="101.75" r="2.5" fill="#C5192D"/><circle cx="528.75" cy="100.05" r="2.5" fill="#C5192D"/><circle cx="535.55" cy="98.1" r="2.5" fill="#C5192D"/><circle cx="542.35" cy="100.05" r="2.5" fill="#C5192D"/><circle cx="549.15" cy="95.4" r="2.5" fill="#C5192D"/><circle cx="555.95" cy="94.15" r="2.5" fill="#C5192D"/><circle cx="562.75" cy="88.3" r="2.5" fill="#C5192D"/><line x1="508.55" y1="57.5" x2="508.55" y2="138.4" stroke="#d6d6d6" stroke-width="1" stroke-dasharray="1 1.75"/><text class="agh" text-anchor="end" x="503.8" y="67.8" textLength="27.3" lengthAdjust="spacingAndGlyphs">Agenda</text><text class="agh" text-anchor="end" x="503.8" y="78.2" textLength="17" lengthAdjust="spacingAndGlyphs">2030</text><text class="ag" text-anchor="end" x="503.8" y="67.8" textLength="27.3" lengthAdjust="spacingAndGlyphs">Agenda</text><text class="ag" text-anchor="end" x="503.8" y="78.2" textLength="17" lengthAdjust="spacingAndGlyphs">2030</text><text class="ti" x="472.35" y="51.4" fill="#C5192D" stroke="#C5192D" textLength="24.5" lengthAdjust="spacingAndGlyphs">Goal 4</text><path d="M643.95 59.1A38.7 38.7 0 0 1 657.93 61.71L651.86 77.38A21.9 21.9 0 0 0 643.95 75.9Z" fill="#E5243B" fill-opacity="0.12"/><path d="M657.93 61.71A38.7 38.7 0 0 1 670.02 69.2L658.7 81.62A21.9 21.9 0 0 0 651.86 77.38Z" fill="#DDA63A" fill-opacity="0.12"/><path d="M670.02 69.2A38.7 38.7 0 0 1 678.59 80.55L663.55 88.04A21.9 21.9 0 0 0 658.7 81.62Z" fill="#4C9F38" fill-opacity="0.12"/><path d="M678.59 80.55A38.7 38.7 0 0 1 682.48 94.23L665.76 95.78A21.9 21.9 0 0 0 663.55 88.04Z" fill="#C5192D" fill-opacity="0.12"/><path d="M682.48 94.23A38.7 38.7 0 0 1 681.17 108.39L665.01 103.79A21.9 21.9 0 0 0 665.76 95.78Z" fill="#FF3A21" fill-opacity="0.12"/><path d="M681.17 108.39A38.7 38.7 0 0 1 674.83 121.12L661.43 111A21.9 21.9 0 0 0 665.01 103.79Z" fill="#26BDE2" fill-opacity="0.12"/><path d="M674.83 121.12A38.7 38.7 0 0 1 664.32 130.7L655.48 116.42A21.9 21.9 0 0 0 661.43 111Z" fill="#FCC30B" fill-opacity="0.12"/><path d="M664.32 130.7A38.7 38.7 0 0 1 651.06 135.84L647.97 119.33A21.9 21.9 0 0 0 655.48 116.42Z" fill="#A21942" fill-opacity="0.12"/><path d="M651.06 135.84A38.7 38.7 0 0 1 636.84 135.84L639.93 119.33A21.9 21.9 0 0 0 647.97 119.33Z" fill="#FD6925" fill-opacity="0.12"/><path d="M636.84 135.84A38.7 38.7 0 0 1 623.58 130.7L632.42 116.42A21.9 21.9 0 0 0 639.93 119.33Z" fill="#DD1367" fill-opacity="0.12"/><path d="M623.58 130.7A38.7 38.7 0 0 1 613.07 121.12L626.47 111A21.9 21.9 0 0 0 632.42 116.42Z" fill="#FD9D24" fill-opacity="0.12"/><path d="M613.07 121.12A38.7 38.7 0 0 1 606.73 108.39L622.89 103.79A21.9 21.9 0 0 0 626.47 111Z" fill="#BF8B2E" fill-opacity="0.12"/><path d="M606.73 108.39A38.7 38.7 0 0 1 605.42 94.23L622.14 95.78A21.9 21.9 0 0 0 622.89 103.79Z" fill="#3F7E44" fill-opacity="0.12"/><path d="M605.42 94.23A38.7 38.7 0 0 1 609.31 80.55L624.35 88.04A21.9 21.9 0 0 0 622.14 95.78Z" fill="#0A97D9" fill-opacity="0.12"/><path d="M609.31 80.55A38.7 38.7 0 0 1 617.88 69.2L629.2 81.62A21.9 21.9 0 0 0 624.35 88.04Z" fill="#56C02B" fill-opacity="0.12"/><path d="M617.88 69.2A38.7 38.7 0 0 1 629.97 61.71L636.04 77.38A21.9 21.9 0 0 0 629.2 81.62Z" fill="#00689D" fill-opacity="0.12"/><path d="M629.97 61.71A38.7 38.7 0 0 1 643.95 59.1L643.95 75.9A21.9 21.9 0 0 0 636.04 77.38Z" fill="#19486A" fill-opacity="0.12"/><line x1="643.95" y1="76.9" x2="643.95" y2="58.1" stroke="#fff" stroke-width="2.0"/><line x1="651.5" y1="78.31" x2="658.29" y2="60.78" stroke="#fff" stroke-width="2.0"/><line x1="658.03" y1="82.35" x2="670.7" y2="68.46" stroke="#fff" stroke-width="2.0"/><line x1="662.66" y1="88.48" x2="679.49" y2="80.1" stroke="#fff" stroke-width="2.0"/><line x1="664.76" y1="95.87" x2="683.48" y2="94.14" stroke="#fff" stroke-width="2.0"/><line x1="664.05" y1="103.52" x2="682.13" y2="108.66" stroke="#fff" stroke-width="2.0"/><line x1="660.63" y1="110.4" x2="675.63" y2="121.72" stroke="#fff" stroke-width="2.0"/><line x1="654.95" y1="115.57" x2="664.85" y2="131.55" stroke="#fff" stroke-width="2.0"/><line x1="647.79" y1="118.34" x2="651.24" y2="136.82" stroke="#fff" stroke-width="2.0"/><line x1="640.11" y1="118.34" x2="636.66" y2="136.82" stroke="#fff" stroke-width="2.0"/><line x1="632.95" y1="115.57" x2="623.05" y2="131.55" stroke="#fff" stroke-width="2.0"/><line x1="627.27" y1="110.4" x2="612.27" y2="121.72" stroke="#fff" stroke-width="2.0"/><line x1="623.85" y1="103.52" x2="605.77" y2="108.66" stroke="#fff" stroke-width="2.0"/><line x1="623.14" y1="95.87" x2="604.42" y2="94.14" stroke="#fff" stroke-width="2.0"/><line x1="625.24" y1="88.48" x2="608.41" y2="80.1" stroke="#fff" stroke-width="2.0"/><line x1="629.87" y1="82.35" x2="617.2" y2="68.46" stroke="#fff" stroke-width="2.0"/><line x1="636.4" y1="78.31" x2="629.61" y2="60.78" stroke="#fff" stroke-width="2.0"/><line x1="592.85" y1="138.4" x2="694.15" y2="138.4" stroke="#f0f0f0" stroke-width="1"/><line x1="596.05" y1="138.4" x2="596.05" y2="143.9" stroke="#f0f0f0" stroke-width="1"/><line x1="602.85" y1="138.4" x2="602.85" y2="143.9" stroke="#f0f0f0" stroke-width="1"/><line x1="609.65" y1="138.4" x2="609.65" y2="143.9" stroke="#f0f0f0" stroke-width="1"/><line x1="616.45" y1="138.4" x2="616.45" y2="143.9" stroke="#f0f0f0" stroke-width="1"/><line x1="623.25" y1="138.4" x2="623.25" y2="143.9" stroke="#f0f0f0" stroke-width="1"/><line x1="630.05" y1="138.4" x2="630.05" y2="143.9" stroke="#f0f0f0" stroke-width="1"/><line x1="636.85" y1="138.4" x2="636.85" y2="143.9" stroke="#f0f0f0" stroke-width="1"/><line x1="643.65" y1="138.4" x2="643.65" y2="143.9" stroke="#f0f0f0" stroke-width="1"/><line x1="650.45" y1="138.4" x2="650.45" y2="143.9" stroke="#f0f0f0" stroke-width="1"/><line x1="657.25" y1="138.4" x2="657.25" y2="143.9" stroke="#f0f0f0" stroke-width="1"/><line x1="664.05" y1="138.4" x2="664.05" y2="143.9" stroke="#f0f0f0" stroke-width="1"/><line x1="670.85" y1="138.4" x2="670.85" y2="143.9" stroke="#f0f0f0" stroke-width="1"/><line x1="677.65" y1="138.4" x2="677.65" y2="143.9" stroke="#f0f0f0" stroke-width="1"/><line x1="684.45" y1="138.4" x2="684.45" y2="143.9" stroke="#f0f0f0" stroke-width="1"/><line x1="691.25" y1="138.4" x2="691.25" y2="143.9" stroke="#f0f0f0" stroke-width="1"/><text class="yl" text-anchor="end" textLength="18" lengthAdjust="spacingAndGlyphs" transform="translate(613.55 150.4) rotate(-45)">2012</text><text class="yl" text-anchor="end" textLength="18" lengthAdjust="spacingAndGlyphs" transform="translate(633.95 150.4) rotate(-45)">2015</text><text class="yl" text-anchor="end" textLength="18" lengthAdjust="spacingAndGlyphs" transform="translate(654.35 150.4) rotate(-45)">2018</text><text class="yl" text-anchor="end" textLength="18" lengthAdjust="spacingAndGlyphs" transform="translate(674.75 150.4) rotate(-45)">2021</text><text class="yl" text-anchor="end" textLength="18" lengthAdjust="spacingAndGlyphs" transform="translate(695.15 150.4) rotate(-45)">2024</text><polyline points="596.05,112.25 602.85,110.95 609.65,106.65 616.45,101.45 623.25,97.55 630.05,99.5 636.85,97.55 643.65,98.2 650.45,97.55 657.25,94.55 664.05,101.85 670.85,96.65 677.65,96.9 684.45,93 691.25,87.55" fill="none" stroke="#FF3A21" stroke-width="2.7" stroke-linejoin="round" stroke-linecap="round"/><circle cx="596.05" cy="112.25" r="2.5" fill="#FF3A21"/><circle cx="602.85" cy="110.95" r="2.5" fill="#FF3A21"/><circle cx="609.65" cy="106.65" r="2.5" fill="#FF3A21"/><circle cx="616.45" cy="101.45" r="2.5" fill="#FF3A21"/><circle cx="623.25" cy="97.55" r="2.5" fill="#FF3A21"/><circle cx="630.05" cy="99.5" r="2.5" fill="#FF3A21"/><circle cx="636.85" cy="97.55" r="2.5" fill="#FF3A21"/><circle cx="643.65" cy="98.2" r="2.5" fill="#FF3A21"/><circle cx="650.45" cy="97.55" r="2.5" fill="#FF3A21"/><circle cx="657.25" cy="94.55" r="2.5" fill="#FF3A21"/><circle cx="664.05" cy="101.85" r="2.5" fill="#FF3A21"/><circle cx="670.85" cy="96.65" r="2.5" fill="#FF3A21"/><circle cx="677.65" cy="96.9" r="2.5" fill="#FF3A21"/><circle cx="684.45" cy="93" r="2.5" fill="#FF3A21"/><circle cx="691.25" cy="87.55" r="2.5" fill="#FF3A21"/><line x1="630.25" y1="57.5" x2="630.25" y2="138.4" stroke="#d6d6d6" stroke-width="1" stroke-dasharray="1 1.75"/><text class="agh" text-anchor="end" x="625.5" y="67.8" textLength="27.3" lengthAdjust="spacingAndGlyphs">Agenda</text><text class="agh" text-anchor="end" x="625.5" y="78.2" textLength="17" lengthAdjust="spacingAndGlyphs">2030</text><text class="ag" text-anchor="end" x="625.5" y="67.8" textLength="27.3" lengthAdjust="spacingAndGlyphs">Agenda</text><text class="ag" text-anchor="end" x="625.5" y="78.2" textLength="17" lengthAdjust="spacingAndGlyphs">2030</text><text class="ti" x="594.05" y="51.4" fill="#FF3A21" stroke="#FF3A21" textLength="24.5" lengthAdjust="spacingAndGlyphs">Goal 5</text><path d="M157.15 199.9A38.7 38.7 0 0 1 171.13 202.51L165.06 218.18A21.9 21.9 0 0 0 157.15 216.7Z" fill="#E5243B" fill-opacity="0.12"/><path d="M171.13 202.51A38.7 38.7 0 0 1 183.22 210L171.9 222.42A21.9 21.9 0 0 0 165.06 218.18Z" fill="#DDA63A" fill-opacity="0.12"/><path d="M183.22 210A38.7 38.7 0 0 1 191.79 221.35L176.75 228.84A21.9 21.9 0 0 0 171.9 222.42Z" fill="#4C9F38" fill-opacity="0.12"/><path d="M191.79 221.35A38.7 38.7 0 0 1 195.68 235.03L178.96 236.58A21.9 21.9 0 0 0 176.75 228.84Z" fill="#C5192D" fill-opacity="0.12"/><path d="M195.68 235.03A38.7 38.7 0 0 1 194.37 249.19L178.21 244.59A21.9 21.9 0 0 0 178.96 236.58Z" fill="#FF3A21" fill-opacity="0.12"/><path d="M194.37 249.19A38.7 38.7 0 0 1 188.03 261.92L174.63 251.8A21.9 21.9 0 0 0 178.21 244.59Z" fill="#26BDE2" fill-opacity="0.12"/><path d="M188.03 261.92A38.7 38.7 0 0 1 177.52 271.5L168.68 257.22A21.9 21.9 0 0 0 174.63 251.8Z" fill="#FCC30B" fill-opacity="0.12"/><path d="M177.52 271.5A38.7 38.7 0 0 1 164.26 276.64L161.17 260.13A21.9 21.9 0 0 0 168.68 257.22Z" fill="#A21942" fill-opacity="0.12"/><path d="M164.26 276.64A38.7 38.7 0 0 1 150.04 276.64L153.13 260.13A21.9 21.9 0 0 0 161.17 260.13Z" fill="#FD6925" fill-opacity="0.12"/><path d="M150.04 276.64A38.7 38.7 0 0 1 136.78 271.5L145.62 257.22A21.9 21.9 0 0 0 153.13 260.13Z" fill="#DD1367" fill-opacity="0.12"/><path d="M136.78 271.5A38.7 38.7 0 0 1 126.27 261.92L139.67 251.8A21.9 21.9 0 0 0 145.62 257.22Z" fill="#FD9D24" fill-opacity="0.12"/><path d="M126.27 261.92A38.7 38.7 0 0 1 119.93 249.19L136.09 244.59A21.9 21.9 0 0 0 139.67 251.8Z" fill="#BF8B2E" fill-opacity="0.12"/><path d="M119.93 249.19A38.7 38.7 0 0 1 118.62 235.03L135.34 236.58A21.9 21.9 0 0 0 136.09 244.59Z" fill="#3F7E44" fill-opacity="0.12"/><path d="M118.62 235.03A38.7 38.7 0 0 1 122.51 221.35L137.55 228.84A21.9 21.9 0 0 0 135.34 236.58Z" fill="#0A97D9" fill-opacity="0.12"/><path d="M122.51 221.35A38.7 38.7 0 0 1 131.08 210L142.4 222.42A21.9 21.9 0 0 0 137.55 228.84Z" fill="#56C02B" fill-opacity="0.12"/><path d="M131.08 210A38.7 38.7 0 0 1 143.17 202.51L149.24 218.18A21.9 21.9 0 0 0 142.4 222.42Z" fill="#00689D" fill-opacity="0.12"/><path d="M143.17 202.51A38.7 38.7 0 0 1 157.15 199.9L157.15 216.7A21.9 21.9 0 0 0 149.24 218.18Z" fill="#19486A" fill-opacity="0.12"/><line x1="157.15" y1="217.7" x2="157.15" y2="198.9" stroke="#fff" stroke-width="2.0"/><line x1="164.7" y1="219.11" x2="171.49" y2="201.58" stroke="#fff" stroke-width="2.0"/><line x1="171.23" y1="223.15" x2="183.9" y2="209.26" stroke="#fff" stroke-width="2.0"/><line x1="175.86" y1="229.28" x2="192.69" y2="220.9" stroke="#fff" stroke-width="2.0"/><line x1="177.96" y1="236.67" x2="196.68" y2="234.94" stroke="#fff" stroke-width="2.0"/><line x1="177.25" y1="244.32" x2="195.33" y2="249.46" stroke="#fff" stroke-width="2.0"/><line x1="173.83" y1="251.2" x2="188.83" y2="262.52" stroke="#fff" stroke-width="2.0"/><line x1="168.15" y1="256.37" x2="178.05" y2="272.35" stroke="#fff" stroke-width="2.0"/><line x1="160.99" y1="259.14" x2="164.44" y2="277.62" stroke="#fff" stroke-width="2.0"/><line x1="153.31" y1="259.14" x2="149.86" y2="277.62" stroke="#fff" stroke-width="2.0"/><line x1="146.15" y1="256.37" x2="136.25" y2="272.35" stroke="#fff" stroke-width="2.0"/><line x1="140.47" y1="251.2" x2="125.47" y2="262.52" stroke="#fff" stroke-width="2.0"/><line x1="137.05" y1="244.32" x2="118.97" y2="249.46" stroke="#fff" stroke-width="2.0"/><line x1="136.34" y1="236.67" x2="117.62" y2="234.94" stroke="#fff" stroke-width="2.0"/><line x1="138.44" y1="229.28" x2="121.61" y2="220.9" stroke="#fff" stroke-width="2.0"/><line x1="143.07" y1="223.15" x2="130.4" y2="209.26" stroke="#fff" stroke-width="2.0"/><line x1="149.6" y1="219.11" x2="142.81" y2="201.58" stroke="#fff" stroke-width="2.0"/><line x1="106.05" y1="279.2" x2="207.35" y2="279.2" stroke="#f0f0f0" stroke-width="1"/><line x1="109.25" y1="279.2" x2="109.25" y2="284.7" stroke="#f0f0f0" stroke-width="1"/><line x1="116.05" y1="279.2" x2="116.05" y2="284.7" stroke="#f0f0f0" stroke-width="1"/><line x1="122.85" y1="279.2" x2="122.85" y2="284.7" stroke="#f0f0f0" stroke-width="1"/><line x1="129.65" y1="279.2" x2="129.65" y2="284.7" stroke="#f0f0f0" stroke-width="1"/><line x1="136.45" y1="279.2" x2="136.45" y2="284.7" stroke="#f0f0f0" stroke-width="1"/><line x1="143.25" y1="279.2" x2="143.25" y2="284.7" stroke="#f0f0f0" stroke-width="1"/><line x1="150.05" y1="279.2" x2="150.05" y2="284.7" stroke="#f0f0f0" stroke-width="1"/><line x1="156.85" y1="279.2" x2="156.85" y2="284.7" stroke="#f0f0f0" stroke-width="1"/><line x1="163.65" y1="279.2" x2="163.65" y2="284.7" stroke="#f0f0f0" stroke-width="1"/><line x1="170.45" y1="279.2" x2="170.45" y2="284.7" stroke="#f0f0f0" stroke-width="1"/><line x1="177.25" y1="279.2" x2="177.25" y2="284.7" stroke="#f0f0f0" stroke-width="1"/><line x1="184.05" y1="279.2" x2="184.05" y2="284.7" stroke="#f0f0f0" stroke-width="1"/><line x1="190.85" y1="279.2" x2="190.85" y2="284.7" stroke="#f0f0f0" stroke-width="1"/><line x1="197.65" y1="279.2" x2="197.65" y2="284.7" stroke="#f0f0f0" stroke-width="1"/><line x1="204.45" y1="279.2" x2="204.45" y2="284.7" stroke="#f0f0f0" stroke-width="1"/><text class="yl" text-anchor="end" textLength="18" lengthAdjust="spacingAndGlyphs" transform="translate(126.75 291.2) rotate(-45)">2012</text><text class="yl" text-anchor="end" textLength="18" lengthAdjust="spacingAndGlyphs" transform="translate(147.15 291.2) rotate(-45)">2015</text><text class="yl" text-anchor="end" textLength="18" lengthAdjust="spacingAndGlyphs" transform="translate(167.55 291.2) rotate(-45)">2018</text><text class="yl" text-anchor="end" textLength="18" lengthAdjust="spacingAndGlyphs" transform="translate(187.95 291.2) rotate(-45)">2021</text><text class="yl" text-anchor="end" textLength="18" lengthAdjust="spacingAndGlyphs" transform="translate(208.35 291.2) rotate(-45)">2024</text><polyline points="109.25,252.9 116.05,253.3 122.85,254.45 129.65,254.6 136.45,253.15 143.25,258.1 150.05,257.45 156.85,260.05 163.65,258.5 170.45,256.4 177.25,259 184.05,259.35 190.85,263.2" fill="none" stroke="#26BDE2" stroke-width="2.7" stroke-linejoin="round" stroke-linecap="round"/><circle cx="109.25" cy="252.9" r="2.5" fill="#26BDE2"/><circle cx="116.05" cy="253.3" r="2.5" fill="#26BDE2"/><circle cx="122.85" cy="254.45" r="2.5" fill="#26BDE2"/><circle cx="129.65" cy="254.6" r="2.5" fill="#26BDE2"/><circle cx="136.45" cy="253.15" r="2.5" fill="#26BDE2"/><circle cx="143.25" cy="258.1" r="2.5" fill="#26BDE2"/><circle cx="150.05" cy="257.45" r="2.5" fill="#26BDE2"/><circle cx="156.85" cy="260.05" r="2.5" fill="#26BDE2"/><circle cx="163.65" cy="258.5" r="2.5" fill="#26BDE2"/><circle cx="170.45" cy="256.4" r="2.5" fill="#26BDE2"/><circle cx="177.25" cy="259" r="2.5" fill="#26BDE2"/><circle cx="184.05" cy="259.35" r="2.5" fill="#26BDE2"/><circle cx="190.85" cy="263.2" r="2.5" fill="#26BDE2"/><line x1="143.45" y1="198.3" x2="143.45" y2="279.2" stroke="#d6d6d6" stroke-width="1" stroke-dasharray="1 1.75"/><text class="agh" text-anchor="end" x="138.7" y="208.6" textLength="27.3" lengthAdjust="spacingAndGlyphs">Agenda</text><text class="agh" text-anchor="end" x="138.7" y="219" textLength="17" lengthAdjust="spacingAndGlyphs">2030</text><text class="ag" text-anchor="end" x="138.7" y="208.6" textLength="27.3" lengthAdjust="spacingAndGlyphs">Agenda</text><text class="ag" text-anchor="end" x="138.7" y="219" textLength="17" lengthAdjust="spacingAndGlyphs">2030</text><text class="ti" x="107.25" y="192.2" fill="#26BDE2" stroke="#26BDE2" textLength="24.5" lengthAdjust="spacingAndGlyphs">Goal 6</text><path d="M278.85 199.9A38.7 38.7 0 0 1 292.83 202.51L286.76 218.18A21.9 21.9 0 0 0 278.85 216.7Z" fill="#E5243B" fill-opacity="0.12"/><path d="M292.83 202.51A38.7 38.7 0 0 1 304.92 210L293.6 222.42A21.9 21.9 0 0 0 286.76 218.18Z" fill="#DDA63A" fill-opacity="0.12"/><path d="M304.92 210A38.7 38.7 0 0 1 313.49 221.35L298.45 228.84A21.9 21.9 0 0 0 293.6 222.42Z" fill="#4C9F38" fill-opacity="0.12"/><path d="M313.49 221.35A38.7 38.7 0 0 1 317.38 235.03L300.66 236.58A21.9 21.9 0 0 0 298.45 228.84Z" fill="#C5192D" fill-opacity="0.12"/><path d="M317.38 235.03A38.7 38.7 0 0 1 316.07 249.19L299.91 244.59A21.9 21.9 0 0 0 300.66 236.58Z" fill="#FF3A21" fill-opacity="0.12"/><path d="M316.07 249.19A38.7 38.7 0 0 1 309.73 261.92L296.33 251.8A21.9 21.9 0 0 0 299.91 244.59Z" fill="#26BDE2" fill-opacity="0.12"/><path d="M309.73 261.92A38.7 38.7 0 0 1 299.22 271.5L290.38 257.22A21.9 21.9 0 0 0 296.33 251.8Z" fill="#FCC30B" fill-opacity="0.12"/><path d="M299.22 271.5A38.7 38.7 0 0 1 285.96 276.64L282.87 260.13A21.9 21.9 0 0 0 290.38 257.22Z" fill="#A21942" fill-opacity="0.12"/><path d="M285.96 276.64A38.7 38.7 0 0 1 271.74 276.64L274.83 260.13A21.9 21.9 0 0 0 282.87 260.13Z" fill="#FD6925" fill-opacity="0.12"/><path d="M271.74 276.64A38.7 38.7 0 0 1 258.48 271.5L267.32 257.22A21.9 21.9 0 0 0 274.83 260.13Z" fill="#DD1367" fill-opacity="0.12"/><path d="M258.48 271.5A38.7 38.7 0 0 1 247.97 261.92L261.37 251.8A21.9 21.9 0 0 0 267.32 257.22Z" fill="#FD9D24" fill-opacity="0.12"/><path d="M247.97 261.92A38.7 38.7 0 0 1 241.63 249.19L257.79 244.59A21.9 21.9 0 0 0 261.37 251.8Z" fill="#BF8B2E" fill-opacity="0.12"/><path d="M241.63 249.19A38.7 38.7 0 0 1 240.32 235.03L257.04 236.58A21.9 21.9 0 0 0 257.79 244.59Z" fill="#3F7E44" fill-opacity="0.12"/><path d="M240.32 235.03A38.7 38.7 0 0 1 244.21 221.35L259.25 228.84A21.9 21.9 0 0 0 257.04 236.58Z" fill="#0A97D9" fill-opacity="0.12"/><path d="M244.21 221.35A38.7 38.7 0 0 1 252.78 210L264.1 222.42A21.9 21.9 0 0 0 259.25 228.84Z" fill="#56C02B" fill-opacity="0.12"/><path d="M252.78 210A38.7 38.7 0 0 1 264.87 202.51L270.94 218.18A21.9 21.9 0 0 0 264.1 222.42Z" fill="#00689D" fill-opacity="0.12"/><path d="M264.87 202.51A38.7 38.7 0 0 1 278.85 199.9L278.85 216.7A21.9 21.9 0 0 0 270.94 218.18Z" fill="#19486A" fill-opacity="0.12"/><line x1="278.85" y1="217.7" x2="278.85" y2="198.9" stroke="#fff" stroke-width="2.0"/><line x1="286.4" y1="219.11" x2="293.19" y2="201.58" stroke="#fff" stroke-width="2.0"/><line x1="292.93" y1="223.15" x2="305.6" y2="209.26" stroke="#fff" stroke-width="2.0"/><line x1="297.56" y1="229.28" x2="314.39" y2="220.9" stroke="#fff" stroke-width="2.0"/><line x1="299.66" y1="236.67" x2="318.38" y2="234.94" stroke="#fff" stroke-width="2.0"/><line x1="298.95" y1="244.32" x2="317.03" y2="249.46" stroke="#fff" stroke-width="2.0"/><line x1="295.53" y1="251.2" x2="310.53" y2="262.52" stroke="#fff" stroke-width="2.0"/><line x1="289.85" y1="256.37" x2="299.75" y2="272.35" stroke="#fff" stroke-width="2.0"/><line x1="282.69" y1="259.14" x2="286.14" y2="277.62" stroke="#fff" stroke-width="2.0"/><line x1="275.01" y1="259.14" x2="271.56" y2="277.62" stroke="#fff" stroke-width="2.0"/><line x1="267.85" y1="256.37" x2="257.95" y2="272.35" stroke="#fff" stroke-width="2.0"/><line x1="262.17" y1="251.2" x2="247.17" y2="262.52" stroke="#fff" stroke-width="2.0"/><line x1="258.75" y1="244.32" x2="240.67" y2="249.46" stroke="#fff" stroke-width="2.0"/><line x1="258.04" y1="236.67" x2="239.32" y2="234.94" stroke="#fff" stroke-width="2.0"/><line x1="260.14" y1="229.28" x2="243.31" y2="220.9" stroke="#fff" stroke-width="2.0"/><line x1="264.77" y1="223.15" x2="252.1" y2="209.26" stroke="#fff" stroke-width="2.0"/><line x1="271.3" y1="219.11" x2="264.51" y2="201.58" stroke="#fff" stroke-width="2.0"/><line x1="227.75" y1="279.2" x2="329.05" y2="279.2" stroke="#f0f0f0" stroke-width="1"/><line x1="230.95" y1="279.2" x2="230.95" y2="284.7" stroke="#f0f0f0" stroke-width="1"/><line x1="237.75" y1="279.2" x2="237.75" y2="284.7" stroke="#f0f0f0" stroke-width="1"/><line x1="244.55" y1="279.2" x2="244.55" y2="284.7" stroke="#f0f0f0" stroke-width="1"/><line x1="251.35" y1="279.2" x2="251.35" y2="284.7" stroke="#f0f0f0" stroke-width="1"/><line x1="258.15" y1="279.2" x2="258.15" y2="284.7" stroke="#f0f0f0" stroke-width="1"/><line x1="264.95" y1="279.2" x2="264.95" y2="284.7" stroke="#f0f0f0" stroke-width="1"/><line x1="271.75" y1="279.2" x2="271.75" y2="284.7" stroke="#f0f0f0" stroke-width="1"/><line x1="278.55" y1="279.2" x2="278.55" y2="284.7" stroke="#f0f0f0" stroke-width="1"/><line x1="285.35" y1="279.2" x2="285.35" y2="284.7" stroke="#f0f0f0" stroke-width="1"/><line x1="292.15" y1="279.2" x2="292.15" y2="284.7" stroke="#f0f0f0" stroke-width="1"/><line x1="298.95" y1="279.2" x2="298.95" y2="284.7" stroke="#f0f0f0" stroke-width="1"/><line x1="305.75" y1="279.2" x2="305.75" y2="284.7" stroke="#f0f0f0" stroke-width="1"/><line x1="312.55" y1="279.2" x2="312.55" y2="284.7" stroke="#f0f0f0" stroke-width="1"/><line x1="319.35" y1="279.2" x2="319.35" y2="284.7" stroke="#f0f0f0" stroke-width="1"/><line x1="326.15" y1="279.2" x2="326.15" y2="284.7" stroke="#f0f0f0" stroke-width="1"/><text class="yl" text-anchor="end" textLength="18" lengthAdjust="spacingAndGlyphs" transform="translate(248.45 291.2) rotate(-45)">2012</text><text class="yl" text-anchor="end" textLength="18" lengthAdjust="spacingAndGlyphs" transform="translate(268.85 291.2) rotate(-45)">2015</text><text class="yl" text-anchor="end" textLength="18" lengthAdjust="spacingAndGlyphs" transform="translate(289.25 291.2) rotate(-45)">2018</text><text class="yl" text-anchor="end" textLength="18" lengthAdjust="spacingAndGlyphs" transform="translate(309.65 291.2) rotate(-45)">2021</text><text class="yl" text-anchor="end" textLength="18" lengthAdjust="spacingAndGlyphs" transform="translate(330.05 291.2) rotate(-45)">2024</text><polyline points="230.95,253.3 237.75,250.7 244.55,248.75 251.35,246.15 258.15,242.25 264.95,244.6 271.75,243.95 278.55,244.45 285.35,243.55 292.15,242.9 298.95,239 305.75,242.9 312.55,241.35 319.35,239" fill="none" stroke="#FCC30B" stroke-width="2.7" stroke-linejoin="round" stroke-linecap="round"/><circle cx="230.95" cy="253.3" r="2.5" fill="#FCC30B"/><circle cx="237.75" cy="250.7" r="2.5" fill="#FCC30B"/><circle cx="244.55" cy="248.75" r="2.5" fill="#FCC30B"/><circle cx="251.35" cy="246.15" r="2.5" fill="#FCC30B"/><circle cx="258.15" cy="242.25" r="2.5" fill="#FCC30B"/><circle cx="264.95" cy="244.6" r="2.5" fill="#FCC30B"/><circle cx="271.75" cy="243.95" r="2.5" fill="#FCC30B"/><circle cx="278.55" cy="244.45" r="2.5" fill="#FCC30B"/><circle cx="285.35" cy="243.55" r="2.5" fill="#FCC30B"/><circle cx="292.15" cy="242.9" r="2.5" fill="#FCC30B"/><circle cx="298.95" cy="239" r="2.5" fill="#FCC30B"/><circle cx="305.75" cy="242.9" r="2.5" fill="#FCC30B"/><circle cx="312.55" cy="241.35" r="2.5" fill="#FCC30B"/><circle cx="319.35" cy="239" r="2.5" fill="#FCC30B"/><line x1="265.15" y1="198.3" x2="265.15" y2="279.2" stroke="#d6d6d6" stroke-width="1" stroke-dasharray="1 1.75"/><text class="agh" text-anchor="end" x="260.4" y="208.6" textLength="27.3" lengthAdjust="spacingAndGlyphs">Agenda</text><text class="agh" text-anchor="end" x="260.4" y="219" textLength="17" lengthAdjust="spacingAndGlyphs">2030</text><text class="ag" text-anchor="end" x="260.4" y="208.6" textLength="27.3" lengthAdjust="spacingAndGlyphs">Agenda</text><text class="ag" text-anchor="end" x="260.4" y="219" textLength="17" lengthAdjust="spacingAndGlyphs">2030</text><text class="ti" x="228.95" y="192.2" fill="#FCC30B" stroke="#FCC30B" textLength="24.5" lengthAdjust="spacingAndGlyphs">Goal 7</text><path d="M400.55 199.9A38.7 38.7 0 0 1 414.53 202.51L408.46 218.18A21.9 21.9 0 0 0 400.55 216.7Z" fill="#E5243B" fill-opacity="0.12"/><path d="M414.53 202.51A38.7 38.7 0 0 1 426.62 210L415.3 222.42A21.9 21.9 0 0 0 408.46 218.18Z" fill="#DDA63A" fill-opacity="0.12"/><path d="M426.62 210A38.7 38.7 0 0 1 435.19 221.35L420.15 228.84A21.9 21.9 0 0 0 415.3 222.42Z" fill="#4C9F38" fill-opacity="0.12"/><path d="M435.19 221.35A38.7 38.7 0 0 1 439.08 235.03L422.36 236.58A21.9 21.9 0 0 0 420.15 228.84Z" fill="#C5192D" fill-opacity="0.12"/><path d="M439.08 235.03A38.7 38.7 0 0 1 437.77 249.19L421.61 244.59A21.9 21.9 0 0 0 422.36 236.58Z" fill="#FF3A21" fill-opacity="0.12"/><path d="M437.77 249.19A38.7 38.7 0 0 1 431.43 261.92L418.03 251.8A21.9 21.9 0 0 0 421.61 244.59Z" fill="#26BDE2" fill-opacity="0.12"/><path d="M431.43 261.92A38.7 38.7 0 0 1 420.92 271.5L412.08 257.22A21.9 21.9 0 0 0 418.03 251.8Z" fill="#FCC30B" fill-opacity="0.12"/><path d="M420.92 271.5A38.7 38.7 0 0 1 407.66 276.64L404.57 260.13A21.9 21.9 0 0 0 412.08 257.22Z" fill="#A21942" fill-opacity="0.12"/><path d="M407.66 276.64A38.7 38.7 0 0 1 393.44 276.64L396.53 260.13A21.9 21.9 0 0 0 404.57 260.13Z" fill="#FD6925" fill-opacity="0.12"/><path d="M393.44 276.64A38.7 38.7 0 0 1 380.18 271.5L389.02 257.22A21.9 21.9 0 0 0 396.53 260.13Z" fill="#DD1367" fill-opacity="0.12"/><path d="M380.18 271.5A38.7 38.7 0 0 1 369.67 261.92L383.07 251.8A21.9 21.9 0 0 0 389.02 257.22Z" fill="#FD9D24" fill-opacity="0.12"/><path d="M369.67 261.92A38.7 38.7 0 0 1 363.33 249.19L379.49 244.59A21.9 21.9 0 0 0 383.07 251.8Z" fill="#BF8B2E" fill-opacity="0.12"/><path d="M363.33 249.19A38.7 38.7 0 0 1 362.02 235.03L378.74 236.58A21.9 21.9 0 0 0 379.49 244.59Z" fill="#3F7E44" fill-opacity="0.12"/><path d="M362.02 235.03A38.7 38.7 0 0 1 365.91 221.35L380.95 228.84A21.9 21.9 0 0 0 378.74 236.58Z" fill="#0A97D9" fill-opacity="0.12"/><path d="M365.91 221.35A38.7 38.7 0 0 1 374.48 210L385.8 222.42A21.9 21.9 0 0 0 380.95 228.84Z" fill="#56C02B" fill-opacity="0.12"/><path d="M374.48 210A38.7 38.7 0 0 1 386.57 202.51L392.64 218.18A21.9 21.9 0 0 0 385.8 222.42Z" fill="#00689D" fill-opacity="0.12"/><path d="M386.57 202.51A38.7 38.7 0 0 1 400.55 199.9L400.55 216.7A21.9 21.9 0 0 0 392.64 218.18Z" fill="#19486A" fill-opacity="0.12"/><line x1="400.55" y1="217.7" x2="400.55" y2="198.9" stroke="#fff" stroke-width="2.0"/><line x1="408.1" y1="219.11" x2="414.89" y2="201.58" stroke="#fff" stroke-width="2.0"/><line x1="414.63" y1="223.15" x2="427.3" y2="209.26" stroke="#fff" stroke-width="2.0"/><line x1="419.26" y1="229.28" x2="436.09" y2="220.9" stroke="#fff" stroke-width="2.0"/><line x1="421.36" y1="236.67" x2="440.08" y2="234.94" stroke="#fff" stroke-width="2.0"/><line x1="420.65" y1="244.32" x2="438.73" y2="249.46" stroke="#fff" stroke-width="2.0"/><line x1="417.23" y1="251.2" x2="432.23" y2="262.52" stroke="#fff" stroke-width="2.0"/><line x1="411.55" y1="256.37" x2="421.45" y2="272.35" stroke="#fff" stroke-width="2.0"/><line x1="404.39" y1="259.14" x2="407.84" y2="277.62" stroke="#fff" stroke-width="2.0"/><line x1="396.71" y1="259.14" x2="393.26" y2="277.62" stroke="#fff" stroke-width="2.0"/><line x1="389.55" y1="256.37" x2="379.65" y2="272.35" stroke="#fff" stroke-width="2.0"/><line x1="383.87" y1="251.2" x2="368.87" y2="262.52" stroke="#fff" stroke-width="2.0"/><line x1="380.45" y1="244.32" x2="362.37" y2="249.46" stroke="#fff" stroke-width="2.0"/><line x1="379.74" y1="236.67" x2="361.02" y2="234.94" stroke="#fff" stroke-width="2.0"/><line x1="381.84" y1="229.28" x2="365.01" y2="220.9" stroke="#fff" stroke-width="2.0"/><line x1="386.47" y1="223.15" x2="373.8" y2="209.26" stroke="#fff" stroke-width="2.0"/><line x1="393" y1="219.11" x2="386.21" y2="201.58" stroke="#fff" stroke-width="2.0"/><line x1="349.45" y1="279.2" x2="450.75" y2="279.2" stroke="#f0f0f0" stroke-width="1"/><line x1="352.65" y1="279.2" x2="352.65" y2="284.7" stroke="#f0f0f0" stroke-width="1"/><line x1="359.45" y1="279.2" x2="359.45" y2="284.7" stroke="#f0f0f0" stroke-width="1"/><line x1="366.25" y1="279.2" x2="366.25" y2="284.7" stroke="#f0f0f0" stroke-width="1"/><line x1="373.05" y1="279.2" x2="373.05" y2="284.7" stroke="#f0f0f0" stroke-width="1"/><line x1="379.85" y1="279.2" x2="379.85" y2="284.7" stroke="#f0f0f0" stroke-width="1"/><line x1="386.65" y1="279.2" x2="386.65" y2="284.7" stroke="#f0f0f0" stroke-width="1"/><line x1="393.45" y1="279.2" x2="393.45" y2="284.7" stroke="#f0f0f0" stroke-width="1"/><line x1="400.25" y1="279.2" x2="400.25" y2="284.7" stroke="#f0f0f0" stroke-width="1"/><line x1="407.05" y1="279.2" x2="407.05" y2="284.7" stroke="#f0f0f0" stroke-width="1"/><line x1="413.85" y1="279.2" x2="413.85" y2="284.7" stroke="#f0f0f0" stroke-width="1"/><line x1="420.65" y1="279.2" x2="420.65" y2="284.7" stroke="#f0f0f0" stroke-width="1"/><line x1="427.45" y1="279.2" x2="427.45" y2="284.7" stroke="#f0f0f0" stroke-width="1"/><line x1="434.25" y1="279.2" x2="434.25" y2="284.7" stroke="#f0f0f0" stroke-width="1"/><line x1="441.05" y1="279.2" x2="441.05" y2="284.7" stroke="#f0f0f0" stroke-width="1"/><line x1="447.85" y1="279.2" x2="447.85" y2="284.7" stroke="#f0f0f0" stroke-width="1"/><text class="yl" text-anchor="end" textLength="18" lengthAdjust="spacingAndGlyphs" transform="translate(370.15 291.2) rotate(-45)">2012</text><text class="yl" text-anchor="end" textLength="18" lengthAdjust="spacingAndGlyphs" transform="translate(390.55 291.2) rotate(-45)">2015</text><text class="yl" text-anchor="end" textLength="18" lengthAdjust="spacingAndGlyphs" transform="translate(410.95 291.2) rotate(-45)">2018</text><text class="yl" text-anchor="end" textLength="18" lengthAdjust="spacingAndGlyphs" transform="translate(431.35 291.2) rotate(-45)">2021</text><text class="yl" text-anchor="end" textLength="18" lengthAdjust="spacingAndGlyphs" transform="translate(451.75 291.2) rotate(-45)">2024</text><polyline points="352.65,253.05 359.45,253.95 366.25,260.45 373.05,266.05 379.85,268.25 386.65,267.35 393.45,264.75 400.25,261.75 407.05,260.2 413.85,258.25 420.65,259.15 427.45,253.3 434.25,244.85 441.05,239.65 447.85,237.05" fill="none" stroke="#A21942" stroke-width="2.7" stroke-linejoin="round" stroke-linecap="round"/><circle cx="352.65" cy="253.05" r="2.5" fill="#A21942"/><circle cx="359.45" cy="253.95" r="2.5" fill="#A21942"/><circle cx="366.25" cy="260.45" r="2.5" fill="#A21942"/><circle cx="373.05" cy="266.05" r="2.5" fill="#A21942"/><circle cx="379.85" cy="268.25" r="2.5" fill="#A21942"/><circle cx="386.65" cy="267.35" r="2.5" fill="#A21942"/><circle cx="393.45" cy="264.75" r="2.5" fill="#A21942"/><circle cx="400.25" cy="261.75" r="2.5" fill="#A21942"/><circle cx="407.05" cy="260.2" r="2.5" fill="#A21942"/><circle cx="413.85" cy="258.25" r="2.5" fill="#A21942"/><circle cx="420.65" cy="259.15" r="2.5" fill="#A21942"/><circle cx="427.45" cy="253.3" r="2.5" fill="#A21942"/><circle cx="434.25" cy="244.85" r="2.5" fill="#A21942"/><circle cx="441.05" cy="239.65" r="2.5" fill="#A21942"/><circle cx="447.85" cy="237.05" r="2.5" fill="#A21942"/><line x1="386.85" y1="198.3" x2="386.85" y2="279.2" stroke="#d6d6d6" stroke-width="1" stroke-dasharray="1 1.75"/><text class="agh" text-anchor="end" x="382.1" y="208.6" textLength="27.3" lengthAdjust="spacingAndGlyphs">Agenda</text><text class="agh" text-anchor="end" x="382.1" y="219" textLength="17" lengthAdjust="spacingAndGlyphs">2030</text><text class="ag" text-anchor="end" x="382.1" y="208.6" textLength="27.3" lengthAdjust="spacingAndGlyphs">Agenda</text><text class="ag" text-anchor="end" x="382.1" y="219" textLength="17" lengthAdjust="spacingAndGlyphs">2030</text><text class="ti" x="350.65" y="192.2" fill="#A21942" stroke="#A21942" textLength="24.5" lengthAdjust="spacingAndGlyphs">Goal 8</text><path d="M522.25 199.9A38.7 38.7 0 0 1 536.23 202.51L530.16 218.18A21.9 21.9 0 0 0 522.25 216.7Z" fill="#E5243B" fill-opacity="0.12"/><path d="M536.23 202.51A38.7 38.7 0 0 1 548.32 210L537 222.42A21.9 21.9 0 0 0 530.16 218.18Z" fill="#DDA63A" fill-opacity="0.12"/><path d="M548.32 210A38.7 38.7 0 0 1 556.89 221.35L541.85 228.84A21.9 21.9 0 0 0 537 222.42Z" fill="#4C9F38" fill-opacity="0.12"/><path d="M556.89 221.35A38.7 38.7 0 0 1 560.78 235.03L544.06 236.58A21.9 21.9 0 0 0 541.85 228.84Z" fill="#C5192D" fill-opacity="0.12"/><path d="M560.78 235.03A38.7 38.7 0 0 1 559.47 249.19L543.31 244.59A21.9 21.9 0 0 0 544.06 236.58Z" fill="#FF3A21" fill-opacity="0.12"/><path d="M559.47 249.19A38.7 38.7 0 0 1 553.13 261.92L539.73 251.8A21.9 21.9 0 0 0 543.31 244.59Z" fill="#26BDE2" fill-opacity="0.12"/><path d="M553.13 261.92A38.7 38.7 0 0 1 542.62 271.5L533.78 257.22A21.9 21.9 0 0 0 539.73 251.8Z" fill="#FCC30B" fill-opacity="0.12"/><path d="M542.62 271.5A38.7 38.7 0 0 1 529.36 276.64L526.27 260.13A21.9 21.9 0 0 0 533.78 257.22Z" fill="#A21942" fill-opacity="0.12"/><path d="M529.36 276.64A38.7 38.7 0 0 1 515.14 276.64L518.23 260.13A21.9 21.9 0 0 0 526.27 260.13Z" fill="#FD6925" fill-opacity="0.12"/><path d="M515.14 276.64A38.7 38.7 0 0 1 501.88 271.5L510.72 257.22A21.9 21.9 0 0 0 518.23 260.13Z" fill="#DD1367" fill-opacity="0.12"/><path d="M501.88 271.5A38.7 38.7 0 0 1 491.37 261.92L504.77 251.8A21.9 21.9 0 0 0 510.72 257.22Z" fill="#FD9D24" fill-opacity="0.12"/><path d="M491.37 261.92A38.7 38.7 0 0 1 485.03 249.19L501.19 244.59A21.9 21.9 0 0 0 504.77 251.8Z" fill="#BF8B2E" fill-opacity="0.12"/><path d="M485.03 249.19A38.7 38.7 0 0 1 483.72 235.03L500.44 236.58A21.9 21.9 0 0 0 501.19 244.59Z" fill="#3F7E44" fill-opacity="0.12"/><path d="M483.72 235.03A38.7 38.7 0 0 1 487.61 221.35L502.65 228.84A21.9 21.9 0 0 0 500.44 236.58Z" fill="#0A97D9" fill-opacity="0.12"/><path d="M487.61 221.35A38.7 38.7 0 0 1 496.18 210L507.5 222.42A21.9 21.9 0 0 0 502.65 228.84Z" fill="#56C02B" fill-opacity="0.12"/><path d="M496.18 210A38.7 38.7 0 0 1 508.27 202.51L514.34 218.18A21.9 21.9 0 0 0 507.5 222.42Z" fill="#00689D" fill-opacity="0.12"/><path d="M508.27 202.51A38.7 38.7 0 0 1 522.25 199.9L522.25 216.7A21.9 21.9 0 0 0 514.34 218.18Z" fill="#19486A" fill-opacity="0.12"/><line x1="522.25" y1="217.7" x2="522.25" y2="198.9" stroke="#fff" stroke-width="2.0"/><line x1="529.8" y1="219.11" x2="536.59" y2="201.58" stroke="#fff" stroke-width="2.0"/><line x1="536.33" y1="223.15" x2="549" y2="209.26" stroke="#fff" stroke-width="2.0"/><line x1="540.96" y1="229.28" x2="557.79" y2="220.9" stroke="#fff" stroke-width="2.0"/><line x1="543.06" y1="236.67" x2="561.78" y2="234.94" stroke="#fff" stroke-width="2.0"/><line x1="542.35" y1="244.32" x2="560.43" y2="249.46" stroke="#fff" stroke-width="2.0"/><line x1="538.93" y1="251.2" x2="553.93" y2="262.52" stroke="#fff" stroke-width="2.0"/><line x1="533.25" y1="256.37" x2="543.15" y2="272.35" stroke="#fff" stroke-width="2.0"/><line x1="526.09" y1="259.14" x2="529.54" y2="277.62" stroke="#fff" stroke-width="2.0"/><line x1="518.41" y1="259.14" x2="514.96" y2="277.62" stroke="#fff" stroke-width="2.0"/><line x1="511.25" y1="256.37" x2="501.35" y2="272.35" stroke="#fff" stroke-width="2.0"/><line x1="505.57" y1="251.2" x2="490.57" y2="262.52" stroke="#fff" stroke-width="2.0"/><line x1="502.15" y1="244.32" x2="484.07" y2="249.46" stroke="#fff" stroke-width="2.0"/><line x1="501.44" y1="236.67" x2="482.72" y2="234.94" stroke="#fff" stroke-width="2.0"/><line x1="503.54" y1="229.28" x2="486.71" y2="220.9" stroke="#fff" stroke-width="2.0"/><line x1="508.17" y1="223.15" x2="495.5" y2="209.26" stroke="#fff" stroke-width="2.0"/><line x1="514.7" y1="219.11" x2="507.91" y2="201.58" stroke="#fff" stroke-width="2.0"/><line x1="471.15" y1="279.2" x2="572.45" y2="279.2" stroke="#f0f0f0" stroke-width="1"/><line x1="474.35" y1="279.2" x2="474.35" y2="284.7" stroke="#f0f0f0" stroke-width="1"/><line x1="481.15" y1="279.2" x2="481.15" y2="284.7" stroke="#f0f0f0" stroke-width="1"/><line x1="487.95" y1="279.2" x2="487.95" y2="284.7" stroke="#f0f0f0" stroke-width="1"/><line x1="494.75" y1="279.2" x2="494.75" y2="284.7" stroke="#f0f0f0" stroke-width="1"/><line x1="501.55" y1="279.2" x2="501.55" y2="284.7" stroke="#f0f0f0" stroke-width="1"/><line x1="508.35" y1="279.2" x2="508.35" y2="284.7" stroke="#f0f0f0" stroke-width="1"/><line x1="515.15" y1="279.2" x2="515.15" y2="284.7" stroke="#f0f0f0" stroke-width="1"/><line x1="521.95" y1="279.2" x2="521.95" y2="284.7" stroke="#f0f0f0" stroke-width="1"/><line x1="528.75" y1="279.2" x2="528.75" y2="284.7" stroke="#f0f0f0" stroke-width="1"/><line x1="535.55" y1="279.2" x2="535.55" y2="284.7" stroke="#f0f0f0" stroke-width="1"/><line x1="542.35" y1="279.2" x2="542.35" y2="284.7" stroke="#f0f0f0" stroke-width="1"/><line x1="549.15" y1="279.2" x2="549.15" y2="284.7" stroke="#f0f0f0" stroke-width="1"/><line x1="555.95" y1="279.2" x2="555.95" y2="284.7" stroke="#f0f0f0" stroke-width="1"/><line x1="562.75" y1="279.2" x2="562.75" y2="284.7" stroke="#f0f0f0" stroke-width="1"/><line x1="569.55" y1="279.2" x2="569.55" y2="284.7" stroke="#f0f0f0" stroke-width="1"/><text class="yl" text-anchor="end" textLength="18" lengthAdjust="spacingAndGlyphs" transform="translate(491.85 291.2) rotate(-45)">2012</text><text class="yl" text-anchor="end" textLength="18" lengthAdjust="spacingAndGlyphs" transform="translate(512.25 291.2) rotate(-45)">2015</text><text class="yl" text-anchor="end" textLength="18" lengthAdjust="spacingAndGlyphs" transform="translate(532.65 291.2) rotate(-45)">2018</text><text class="yl" text-anchor="end" textLength="18" lengthAdjust="spacingAndGlyphs" transform="translate(553.05 291.2) rotate(-45)">2021</text><text class="yl" text-anchor="end" textLength="18" lengthAdjust="spacingAndGlyphs" transform="translate(573.45 291.2) rotate(-45)">2024</text><polyline points="474.35,252.9 481.15,252.25 487.95,250.7 494.75,249.4 501.55,249.4 508.35,249.65 515.15,250.95 521.95,251.6 528.75,250.05 535.55,249.4 542.35,248.1 549.15,251.6 555.95,249.25 562.75,248.75 569.55,246.4" fill="none" stroke="#FD6925" stroke-width="2.7" stroke-linejoin="round" stroke-linecap="round"/><circle cx="474.35" cy="252.9" r="2.5" fill="#FD6925"/><circle cx="481.15" cy="252.25" r="2.5" fill="#FD6925"/><circle cx="487.95" cy="250.7" r="2.5" fill="#FD6925"/><circle cx="494.75" cy="249.4" r="2.5" fill="#FD6925"/><circle cx="501.55" cy="249.4" r="2.5" fill="#FD6925"/><circle cx="508.35" cy="249.65" r="2.5" fill="#FD6925"/><circle cx="515.15" cy="250.95" r="2.5" fill="#FD6925"/><circle cx="521.95" cy="251.6" r="2.5" fill="#FD6925"/><circle cx="528.75" cy="250.05" r="2.5" fill="#FD6925"/><circle cx="535.55" cy="249.4" r="2.5" fill="#FD6925"/><circle cx="542.35" cy="248.1" r="2.5" fill="#FD6925"/><circle cx="549.15" cy="251.6" r="2.5" fill="#FD6925"/><circle cx="555.95" cy="249.25" r="2.5" fill="#FD6925"/><circle cx="562.75" cy="248.75" r="2.5" fill="#FD6925"/><circle cx="569.55" cy="246.4" r="2.5" fill="#FD6925"/><line x1="508.55" y1="198.3" x2="508.55" y2="279.2" stroke="#d6d6d6" stroke-width="1" stroke-dasharray="1 1.75"/><text class="agh" text-anchor="end" x="503.8" y="208.6" textLength="27.3" lengthAdjust="spacingAndGlyphs">Agenda</text><text class="agh" text-anchor="end" x="503.8" y="219" textLength="17" lengthAdjust="spacingAndGlyphs">2030</text><text class="ag" text-anchor="end" x="503.8" y="208.6" textLength="27.3" lengthAdjust="spacingAndGlyphs">Agenda</text><text class="ag" text-anchor="end" x="503.8" y="219" textLength="17" lengthAdjust="spacingAndGlyphs">2030</text><text class="ti" x="472.35" y="192.2" fill="#FD6925" stroke="#FD6925" textLength="24.5" lengthAdjust="spacingAndGlyphs">Goal 9</text><path d="M643.95 199.9A38.7 38.7 0 0 1 657.93 202.51L651.86 218.18A21.9 21.9 0 0 0 643.95 216.7Z" fill="#E5243B" fill-opacity="0.12"/><path d="M657.93 202.51A38.7 38.7 0 0 1 670.02 210L658.7 222.42A21.9 21.9 0 0 0 651.86 218.18Z" fill="#DDA63A" fill-opacity="0.12"/><path d="M670.02 210A38.7 38.7 0 0 1 678.59 221.35L663.55 228.84A21.9 21.9 0 0 0 658.7 222.42Z" fill="#4C9F38" fill-opacity="0.12"/><path d="M678.59 221.35A38.7 38.7 0 0 1 682.48 235.03L665.76 236.58A21.9 21.9 0 0 0 663.55 228.84Z" fill="#C5192D" fill-opacity="0.12"/><path d="M682.48 235.03A38.7 38.7 0 0 1 681.17 249.19L665.01 244.59A21.9 21.9 0 0 0 665.76 236.58Z" fill="#FF3A21" fill-opacity="0.12"/><path d="M681.17 249.19A38.7 38.7 0 0 1 674.83 261.92L661.43 251.8A21.9 21.9 0 0 0 665.01 244.59Z" fill="#26BDE2" fill-opacity="0.12"/><path d="M674.83 261.92A38.7 38.7 0 0 1 664.32 271.5L655.48 257.22A21.9 21.9 0 0 0 661.43 251.8Z" fill="#FCC30B" fill-opacity="0.12"/><path d="M664.32 271.5A38.7 38.7 0 0 1 651.06 276.64L647.97 260.13A21.9 21.9 0 0 0 655.48 257.22Z" fill="#A21942" fill-opacity="0.12"/><path d="M651.06 276.64A38.7 38.7 0 0 1 636.84 276.64L639.93 260.13A21.9 21.9 0 0 0 647.97 260.13Z" fill="#FD6925" fill-opacity="0.12"/><path d="M636.84 276.64A38.7 38.7 0 0 1 623.58 271.5L632.42 257.22A21.9 21.9 0 0 0 639.93 260.13Z" fill="#DD1367" fill-opacity="0.12"/><path d="M623.58 271.5A38.7 38.7 0 0 1 613.07 261.92L626.47 251.8A21.9 21.9 0 0 0 632.42 257.22Z" fill="#FD9D24" fill-opacity="0.12"/><path d="M613.07 261.92A38.7 38.7 0 0 1 606.73 249.19L622.89 244.59A21.9 21.9 0 0 0 626.47 251.8Z" fill="#BF8B2E" fill-opacity="0.12"/><path d="M606.73 249.19A38.7 38.7 0 0 1 605.42 235.03L622.14 236.58A21.9 21.9 0 0 0 622.89 244.59Z" fill="#3F7E44" fill-opacity="0.12"/><path d="M605.42 235.03A38.7 38.7 0 0 1 609.31 221.35L624.35 228.84A21.9 21.9 0 0 0 622.14 236.58Z" fill="#0A97D9" fill-opacity="0.12"/><path d="M609.31 221.35A38.7 38.7 0 0 1 617.88 210L629.2 222.42A21.9 21.9 0 0 0 624.35 228.84Z" fill="#56C02B" fill-opacity="0.12"/><path d="M617.88 210A38.7 38.7 0 0 1 629.97 202.51L636.04 218.18A21.9 21.9 0 0 0 629.2 222.42Z" fill="#00689D" fill-opacity="0.12"/><path d="M629.97 202.51A38.7 38.7 0 0 1 643.95 199.9L643.95 216.7A21.9 21.9 0 0 0 636.04 218.18Z" fill="#19486A" fill-opacity="0.12"/><line x1="643.95" y1="217.7" x2="643.95" y2="198.9" stroke="#fff" stroke-width="2.0"/><line x1="651.5" y1="219.11" x2="658.29" y2="201.58" stroke="#fff" stroke-width="2.0"/><line x1="658.03" y1="223.15" x2="670.7" y2="209.26" stroke="#fff" stroke-width="2.0"/><line x1="662.66" y1="229.28" x2="679.49" y2="220.9" stroke="#fff" stroke-width="2.0"/><line x1="664.76" y1="236.67" x2="683.48" y2="234.94" stroke="#fff" stroke-width="2.0"/><line x1="664.05" y1="244.32" x2="682.13" y2="249.46" stroke="#fff" stroke-width="2.0"/><line x1="660.63" y1="251.2" x2="675.63" y2="262.52" stroke="#fff" stroke-width="2.0"/><line x1="654.95" y1="256.37" x2="664.85" y2="272.35" stroke="#fff" stroke-width="2.0"/><line x1="647.79" y1="259.14" x2="651.24" y2="277.62" stroke="#fff" stroke-width="2.0"/><line x1="640.11" y1="259.14" x2="636.66" y2="277.62" stroke="#fff" stroke-width="2.0"/><line x1="632.95" y1="256.37" x2="623.05" y2="272.35" stroke="#fff" stroke-width="2.0"/><line x1="627.27" y1="251.2" x2="612.27" y2="262.52" stroke="#fff" stroke-width="2.0"/><line x1="623.85" y1="244.32" x2="605.77" y2="249.46" stroke="#fff" stroke-width="2.0"/><line x1="623.14" y1="236.67" x2="604.42" y2="234.94" stroke="#fff" stroke-width="2.0"/><line x1="625.24" y1="229.28" x2="608.41" y2="220.9" stroke="#fff" stroke-width="2.0"/><line x1="629.87" y1="223.15" x2="617.2" y2="209.26" stroke="#fff" stroke-width="2.0"/><line x1="636.4" y1="219.11" x2="629.61" y2="201.58" stroke="#fff" stroke-width="2.0"/><line x1="592.85" y1="279.2" x2="694.15" y2="279.2" stroke="#f0f0f0" stroke-width="1"/><line x1="596.05" y1="279.2" x2="596.05" y2="284.7" stroke="#f0f0f0" stroke-width="1"/><line x1="602.85" y1="279.2" x2="602.85" y2="284.7" stroke="#f0f0f0" stroke-width="1"/><line x1="609.65" y1="279.2" x2="609.65" y2="284.7" stroke="#f0f0f0" stroke-width="1"/><line x1="616.45" y1="279.2" x2="616.45" y2="284.7" stroke="#f0f0f0" stroke-width="1"/><line x1="623.25" y1="279.2" x2="623.25" y2="284.7" stroke="#f0f0f0" stroke-width="1"/><line x1="630.05" y1="279.2" x2="630.05" y2="284.7" stroke="#f0f0f0" stroke-width="1"/><line x1="636.85" y1="279.2" x2="636.85" y2="284.7" stroke="#f0f0f0" stroke-width="1"/><line x1="643.65" y1="279.2" x2="643.65" y2="284.7" stroke="#f0f0f0" stroke-width="1"/><line x1="650.45" y1="279.2" x2="650.45" y2="284.7" stroke="#f0f0f0" stroke-width="1"/><line x1="657.25" y1="279.2" x2="657.25" y2="284.7" stroke="#f0f0f0" stroke-width="1"/><line x1="664.05" y1="279.2" x2="664.05" y2="284.7" stroke="#f0f0f0" stroke-width="1"/><line x1="670.85" y1="279.2" x2="670.85" y2="284.7" stroke="#f0f0f0" stroke-width="1"/><line x1="677.65" y1="279.2" x2="677.65" y2="284.7" stroke="#f0f0f0" stroke-width="1"/><line x1="684.45" y1="279.2" x2="684.45" y2="284.7" stroke="#f0f0f0" stroke-width="1"/><line x1="691.25" y1="279.2" x2="691.25" y2="284.7" stroke="#f0f0f0" stroke-width="1"/><text class="yl" text-anchor="end" textLength="18" lengthAdjust="spacingAndGlyphs" transform="translate(613.55 291.2) rotate(-45)">2012</text><text class="yl" text-anchor="end" textLength="18" lengthAdjust="spacingAndGlyphs" transform="translate(633.95 291.2) rotate(-45)">2015</text><text class="yl" text-anchor="end" textLength="18" lengthAdjust="spacingAndGlyphs" transform="translate(654.35 291.2) rotate(-45)">2018</text><text class="yl" text-anchor="end" textLength="18" lengthAdjust="spacingAndGlyphs" transform="translate(674.75 291.2) rotate(-45)">2021</text><text class="yl" text-anchor="end" textLength="18" lengthAdjust="spacingAndGlyphs" transform="translate(695.15 291.2) rotate(-45)">2024</text><polyline points="596.05,252.9 602.85,254.2 609.65,255.75 616.45,258.35 623.25,259.15 630.05,261.35 636.85,262 643.65,260.7 650.45,260.7 657.25,259.8 664.05,260.05 670.85,255.75 677.65,253.55 684.45,252.9 691.25,253.55" fill="none" stroke="#DD1367" stroke-width="2.7" stroke-linejoin="round" stroke-linecap="round"/><circle cx="596.05" cy="252.9" r="2.5" fill="#DD1367"/><circle cx="602.85" cy="254.2" r="2.5" fill="#DD1367"/><circle cx="609.65" cy="255.75" r="2.5" fill="#DD1367"/><circle cx="616.45" cy="258.35" r="2.5" fill="#DD1367"/><circle cx="623.25" cy="259.15" r="2.5" fill="#DD1367"/><circle cx="630.05" cy="261.35" r="2.5" fill="#DD1367"/><circle cx="636.85" cy="262" r="2.5" fill="#DD1367"/><circle cx="643.65" cy="260.7" r="2.5" fill="#DD1367"/><circle cx="650.45" cy="260.7" r="2.5" fill="#DD1367"/><circle cx="657.25" cy="259.8" r="2.5" fill="#DD1367"/><circle cx="664.05" cy="260.05" r="2.5" fill="#DD1367"/><circle cx="670.85" cy="255.75" r="2.5" fill="#DD1367"/><circle cx="677.65" cy="253.55" r="2.5" fill="#DD1367"/><circle cx="684.45" cy="252.9" r="2.5" fill="#DD1367"/><circle cx="691.25" cy="253.55" r="2.5" fill="#DD1367"/><line x1="630.25" y1="198.3" x2="630.25" y2="279.2" stroke="#d6d6d6" stroke-width="1" stroke-dasharray="1 1.75"/><text class="agh" text-anchor="end" x="625.5" y="208.6" textLength="27.3" lengthAdjust="spacingAndGlyphs">Agenda</text><text class="agh" text-anchor="end" x="625.5" y="219" textLength="17" lengthAdjust="spacingAndGlyphs">2030</text><text class="ag" text-anchor="end" x="625.5" y="208.6" textLength="27.3" lengthAdjust="spacingAndGlyphs">Agenda</text><text class="ag" text-anchor="end" x="625.5" y="219" textLength="17" lengthAdjust="spacingAndGlyphs">2030</text><text class="ti" x="594.05" y="192.2" fill="#DD1367" stroke="#DD1367" textLength="29.5" lengthAdjust="spacingAndGlyphs">Goal 10</text><path d="M157.15 340.7A38.7 38.7 0 0 1 171.13 343.31L165.06 358.98A21.9 21.9 0 0 0 157.15 357.5Z" fill="#E5243B" fill-opacity="0.12"/><path d="M171.13 343.31A38.7 38.7 0 0 1 183.22 350.8L171.9 363.22A21.9 21.9 0 0 0 165.06 358.98Z" fill="#DDA63A" fill-opacity="0.12"/><path d="M183.22 350.8A38.7 38.7 0 0 1 191.79 362.15L176.75 369.64A21.9 21.9 0 0 0 171.9 363.22Z" fill="#4C9F38" fill-opacity="0.12"/><path d="M191.79 362.15A38.7 38.7 0 0 1 195.68 375.83L178.96 377.38A21.9 21.9 0 0 0 176.75 369.64Z" fill="#C5192D" fill-opacity="0.12"/><path d="M195.68 375.83A38.7 38.7 0 0 1 194.37 389.99L178.21 385.39A21.9 21.9 0 0 0 178.96 377.38Z" fill="#FF3A21" fill-opacity="0.12"/><path d="M194.37 389.99A38.7 38.7 0 0 1 188.03 402.72L174.63 392.6A21.9 21.9 0 0 0 178.21 385.39Z" fill="#26BDE2" fill-opacity="0.12"/><path d="M188.03 402.72A38.7 38.7 0 0 1 177.52 412.3L168.68 398.02A21.9 21.9 0 0 0 174.63 392.6Z" fill="#FCC30B" fill-opacity="0.12"/><path d="M177.52 412.3A38.7 38.7 0 0 1 164.26 417.44L161.17 400.93A21.9 21.9 0 0 0 168.68 398.02Z" fill="#A21942" fill-opacity="0.12"/><path d="M164.26 417.44A38.7 38.7 0 0 1 150.04 417.44L153.13 400.93A21.9 21.9 0 0 0 161.17 400.93Z" fill="#FD6925" fill-opacity="0.12"/><path d="M150.04 417.44A38.7 38.7 0 0 1 136.78 412.3L145.62 398.02A21.9 21.9 0 0 0 153.13 400.93Z" fill="#DD1367" fill-opacity="0.12"/><path d="M136.78 412.3A38.7 38.7 0 0 1 126.27 402.72L139.67 392.6A21.9 21.9 0 0 0 145.62 398.02Z" fill="#FD9D24" fill-opacity="0.12"/><path d="M126.27 402.72A38.7 38.7 0 0 1 119.93 389.99L136.09 385.39A21.9 21.9 0 0 0 139.67 392.6Z" fill="#BF8B2E" fill-opacity="0.12"/><path d="M119.93 389.99A38.7 38.7 0 0 1 118.62 375.83L135.34 377.38A21.9 21.9 0 0 0 136.09 385.39Z" fill="#3F7E44" fill-opacity="0.12"/><path d="M118.62 375.83A38.7 38.7 0 0 1 122.51 362.15L137.55 369.64A21.9 21.9 0 0 0 135.34 377.38Z" fill="#0A97D9" fill-opacity="0.12"/><path d="M122.51 362.15A38.7 38.7 0 0 1 131.08 350.8L142.4 363.22A21.9 21.9 0 0 0 137.55 369.64Z" fill="#56C02B" fill-opacity="0.12"/><path d="M131.08 350.8A38.7 38.7 0 0 1 143.17 343.31L149.24 358.98A21.9 21.9 0 0 0 142.4 363.22Z" fill="#00689D" fill-opacity="0.12"/><path d="M143.17 343.31A38.7 38.7 0 0 1 157.15 340.7L157.15 357.5A21.9 21.9 0 0 0 149.24 358.98Z" fill="#19486A" fill-opacity="0.12"/><line x1="157.15" y1="358.5" x2="157.15" y2="339.7" stroke="#fff" stroke-width="2.0"/><line x1="164.7" y1="359.91" x2="171.49" y2="342.38" stroke="#fff" stroke-width="2.0"/><line x1="171.23" y1="363.95" x2="183.9" y2="350.06" stroke="#fff" stroke-width="2.0"/><line x1="175.86" y1="370.08" x2="192.69" y2="361.7" stroke="#fff" stroke-width="2.0"/><line x1="177.96" y1="377.47" x2="196.68" y2="375.74" stroke="#fff" stroke-width="2.0"/><line x1="177.25" y1="385.12" x2="195.33" y2="390.26" stroke="#fff" stroke-width="2.0"/><line x1="173.83" y1="392" x2="188.83" y2="403.32" stroke="#fff" stroke-width="2.0"/><line x1="168.15" y1="397.17" x2="178.05" y2="413.15" stroke="#fff" stroke-width="2.0"/><line x1="160.99" y1="399.94" x2="164.44" y2="418.42" stroke="#fff" stroke-width="2.0"/><line x1="153.31" y1="399.94" x2="149.86" y2="418.42" stroke="#fff" stroke-width="2.0"/><line x1="146.15" y1="397.17" x2="136.25" y2="413.15" stroke="#fff" stroke-width="2.0"/><line x1="140.47" y1="392" x2="125.47" y2="403.32" stroke="#fff" stroke-width="2.0"/><line x1="137.05" y1="385.12" x2="118.97" y2="390.26" stroke="#fff" stroke-width="2.0"/><line x1="136.34" y1="377.47" x2="117.62" y2="375.74" stroke="#fff" stroke-width="2.0"/><line x1="138.44" y1="370.08" x2="121.61" y2="361.7" stroke="#fff" stroke-width="2.0"/><line x1="143.07" y1="363.95" x2="130.4" y2="350.06" stroke="#fff" stroke-width="2.0"/><line x1="149.6" y1="359.91" x2="142.81" y2="342.38" stroke="#fff" stroke-width="2.0"/><line x1="106.05" y1="420" x2="207.35" y2="420" stroke="#f0f0f0" stroke-width="1"/><line x1="109.25" y1="420" x2="109.25" y2="425.5" stroke="#f0f0f0" stroke-width="1"/><line x1="116.05" y1="420" x2="116.05" y2="425.5" stroke="#f0f0f0" stroke-width="1"/><line x1="122.85" y1="420" x2="122.85" y2="425.5" stroke="#f0f0f0" stroke-width="1"/><line x1="129.65" y1="420" x2="129.65" y2="425.5" stroke="#f0f0f0" stroke-width="1"/><line x1="136.45" y1="420" x2="136.45" y2="425.5" stroke="#f0f0f0" stroke-width="1"/><line x1="143.25" y1="420" x2="143.25" y2="425.5" stroke="#f0f0f0" stroke-width="1"/><line x1="150.05" y1="420" x2="150.05" y2="425.5" stroke="#f0f0f0" stroke-width="1"/><line x1="156.85" y1="420" x2="156.85" y2="425.5" stroke="#f0f0f0" stroke-width="1"/><line x1="163.65" y1="420" x2="163.65" y2="425.5" stroke="#f0f0f0" stroke-width="1"/><line x1="170.45" y1="420" x2="170.45" y2="425.5" stroke="#f0f0f0" stroke-width="1"/><line x1="177.25" y1="420" x2="177.25" y2="425.5" stroke="#f0f0f0" stroke-width="1"/><line x1="184.05" y1="420" x2="184.05" y2="425.5" stroke="#f0f0f0" stroke-width="1"/><line x1="190.85" y1="420" x2="190.85" y2="425.5" stroke="#f0f0f0" stroke-width="1"/><line x1="197.65" y1="420" x2="197.65" y2="425.5" stroke="#f0f0f0" stroke-width="1"/><line x1="204.45" y1="420" x2="204.45" y2="425.5" stroke="#f0f0f0" stroke-width="1"/><text class="yl" text-anchor="end" textLength="18" lengthAdjust="spacingAndGlyphs" transform="translate(126.75 432) rotate(-45)">2012</text><text class="yl" text-anchor="end" textLength="18" lengthAdjust="spacingAndGlyphs" transform="translate(147.15 432) rotate(-45)">2015</text><text class="yl" text-anchor="end" textLength="18" lengthAdjust="spacingAndGlyphs" transform="translate(167.55 432) rotate(-45)">2018</text><text class="yl" text-anchor="end" textLength="18" lengthAdjust="spacingAndGlyphs" transform="translate(187.95 432) rotate(-45)">2021</text><text class="yl" text-anchor="end" textLength="18" lengthAdjust="spacingAndGlyphs" transform="translate(208.35 432) rotate(-45)">2024</text><polyline points="109.25,393.8 116.05,395.75 122.85,391.45 129.65,389.5 136.45,389.25 143.25,393.15 150.05,390.8 156.85,390.8 163.65,387.55 170.45,388.2 177.25,386.65 184.05,384.3 190.85,386.25 197.65,384.95" fill="none" stroke="#FD9D24" stroke-width="2.7" stroke-linejoin="round" stroke-linecap="round"/><circle cx="109.25" cy="393.8" r="2.5" fill="#FD9D24"/><circle cx="116.05" cy="395.75" r="2.5" fill="#FD9D24"/><circle cx="122.85" cy="391.45" r="2.5" fill="#FD9D24"/><circle cx="129.65" cy="389.5" r="2.5" fill="#FD9D24"/><circle cx="136.45" cy="389.25" r="2.5" fill="#FD9D24"/><circle cx="143.25" cy="393.15" r="2.5" fill="#FD9D24"/><circle cx="150.05" cy="390.8" r="2.5" fill="#FD9D24"/><circle cx="156.85" cy="390.8" r="2.5" fill="#FD9D24"/><circle cx="163.65" cy="387.55" r="2.5" fill="#FD9D24"/><circle cx="170.45" cy="388.2" r="2.5" fill="#FD9D24"/><circle cx="177.25" cy="386.65" r="2.5" fill="#FD9D24"/><circle cx="184.05" cy="384.3" r="2.5" fill="#FD9D24"/><circle cx="190.85" cy="386.25" r="2.5" fill="#FD9D24"/><circle cx="197.65" cy="384.95" r="2.5" fill="#FD9D24"/><line x1="143.45" y1="339.1" x2="143.45" y2="420" stroke="#d6d6d6" stroke-width="1" stroke-dasharray="1 1.75"/><text class="agh" text-anchor="end" x="138.7" y="349.4" textLength="27.3" lengthAdjust="spacingAndGlyphs">Agenda</text><text class="agh" text-anchor="end" x="138.7" y="359.8" textLength="17" lengthAdjust="spacingAndGlyphs">2030</text><text class="ag" text-anchor="end" x="138.7" y="349.4" textLength="27.3" lengthAdjust="spacingAndGlyphs">Agenda</text><text class="ag" text-anchor="end" x="138.7" y="359.8" textLength="17" lengthAdjust="spacingAndGlyphs">2030</text><text class="ti" x="107.25" y="333" fill="#FD9D24" stroke="#FD9D24" textLength="29.5" lengthAdjust="spacingAndGlyphs">Goal 11</text><path d="M278.85 340.7A38.7 38.7 0 0 1 292.83 343.31L286.76 358.98A21.9 21.9 0 0 0 278.85 357.5Z" fill="#E5243B" fill-opacity="0.12"/><path d="M292.83 343.31A38.7 38.7 0 0 1 304.92 350.8L293.6 363.22A21.9 21.9 0 0 0 286.76 358.98Z" fill="#DDA63A" fill-opacity="0.12"/><path d="M304.92 350.8A38.7 38.7 0 0 1 313.49 362.15L298.45 369.64A21.9 21.9 0 0 0 293.6 363.22Z" fill="#4C9F38" fill-opacity="0.12"/><path d="M313.49 362.15A38.7 38.7 0 0 1 317.38 375.83L300.66 377.38A21.9 21.9 0 0 0 298.45 369.64Z" fill="#C5192D" fill-opacity="0.12"/><path d="M317.38 375.83A38.7 38.7 0 0 1 316.07 389.99L299.91 385.39A21.9 21.9 0 0 0 300.66 377.38Z" fill="#FF3A21" fill-opacity="0.12"/><path d="M316.07 389.99A38.7 38.7 0 0 1 309.73 402.72L296.33 392.6A21.9 21.9 0 0 0 299.91 385.39Z" fill="#26BDE2" fill-opacity="0.12"/><path d="M309.73 402.72A38.7 38.7 0 0 1 299.22 412.3L290.38 398.02A21.9 21.9 0 0 0 296.33 392.6Z" fill="#FCC30B" fill-opacity="0.12"/><path d="M299.22 412.3A38.7 38.7 0 0 1 285.96 417.44L282.87 400.93A21.9 21.9 0 0 0 290.38 398.02Z" fill="#A21942" fill-opacity="0.12"/><path d="M285.96 417.44A38.7 38.7 0 0 1 271.74 417.44L274.83 400.93A21.9 21.9 0 0 0 282.87 400.93Z" fill="#FD6925" fill-opacity="0.12"/><path d="M271.74 417.44A38.7 38.7 0 0 1 258.48 412.3L267.32 398.02A21.9 21.9 0 0 0 274.83 400.93Z" fill="#DD1367" fill-opacity="0.12"/><path d="M258.48 412.3A38.7 38.7 0 0 1 247.97 402.72L261.37 392.6A21.9 21.9 0 0 0 267.32 398.02Z" fill="#FD9D24" fill-opacity="0.12"/><path d="M247.97 402.72A38.7 38.7 0 0 1 241.63 389.99L257.79 385.39A21.9 21.9 0 0 0 261.37 392.6Z" fill="#BF8B2E" fill-opacity="0.12"/><path d="M241.63 389.99A38.7 38.7 0 0 1 240.32 375.83L257.04 377.38A21.9 21.9 0 0 0 257.79 385.39Z" fill="#3F7E44" fill-opacity="0.12"/><path d="M240.32 375.83A38.7 38.7 0 0 1 244.21 362.15L259.25 369.64A21.9 21.9 0 0 0 257.04 377.38Z" fill="#0A97D9" fill-opacity="0.12"/><path d="M244.21 362.15A38.7 38.7 0 0 1 252.78 350.8L264.1 363.22A21.9 21.9 0 0 0 259.25 369.64Z" fill="#56C02B" fill-opacity="0.12"/><path d="M252.78 350.8A38.7 38.7 0 0 1 264.87 343.31L270.94 358.98A21.9 21.9 0 0 0 264.1 363.22Z" fill="#00689D" fill-opacity="0.12"/><path d="M264.87 343.31A38.7 38.7 0 0 1 278.85 340.7L278.85 357.5A21.9 21.9 0 0 0 270.94 358.98Z" fill="#19486A" fill-opacity="0.12"/><line x1="278.85" y1="358.5" x2="278.85" y2="339.7" stroke="#fff" stroke-width="2.0"/><line x1="286.4" y1="359.91" x2="293.19" y2="342.38" stroke="#fff" stroke-width="2.0"/><line x1="292.93" y1="363.95" x2="305.6" y2="350.06" stroke="#fff" stroke-width="2.0"/><line x1="297.56" y1="370.08" x2="314.39" y2="361.7" stroke="#fff" stroke-width="2.0"/><line x1="299.66" y1="377.47" x2="318.38" y2="375.74" stroke="#fff" stroke-width="2.0"/><line x1="298.95" y1="385.12" x2="317.03" y2="390.26" stroke="#fff" stroke-width="2.0"/><line x1="295.53" y1="392" x2="310.53" y2="403.32" stroke="#fff" stroke-width="2.0"/><line x1="289.85" y1="397.17" x2="299.75" y2="413.15" stroke="#fff" stroke-width="2.0"/><line x1="282.69" y1="399.94" x2="286.14" y2="418.42" stroke="#fff" stroke-width="2.0"/><line x1="275.01" y1="399.94" x2="271.56" y2="418.42" stroke="#fff" stroke-width="2.0"/><line x1="267.85" y1="397.17" x2="257.95" y2="413.15" stroke="#fff" stroke-width="2.0"/><line x1="262.17" y1="392" x2="247.17" y2="403.32" stroke="#fff" stroke-width="2.0"/><line x1="258.75" y1="385.12" x2="240.67" y2="390.26" stroke="#fff" stroke-width="2.0"/><line x1="258.04" y1="377.47" x2="239.32" y2="375.74" stroke="#fff" stroke-width="2.0"/><line x1="260.14" y1="370.08" x2="243.31" y2="361.7" stroke="#fff" stroke-width="2.0"/><line x1="264.77" y1="363.95" x2="252.1" y2="350.06" stroke="#fff" stroke-width="2.0"/><line x1="271.3" y1="359.91" x2="264.51" y2="342.38" stroke="#fff" stroke-width="2.0"/><line x1="227.75" y1="420" x2="329.05" y2="420" stroke="#f0f0f0" stroke-width="1"/><line x1="230.95" y1="420" x2="230.95" y2="425.5" stroke="#f0f0f0" stroke-width="1"/><line x1="237.75" y1="420" x2="237.75" y2="425.5" stroke="#f0f0f0" stroke-width="1"/><line x1="244.55" y1="420" x2="244.55" y2="425.5" stroke="#f0f0f0" stroke-width="1"/><line x1="251.35" y1="420" x2="251.35" y2="425.5" stroke="#f0f0f0" stroke-width="1"/><line x1="258.15" y1="420" x2="258.15" y2="425.5" stroke="#f0f0f0" stroke-width="1"/><line x1="264.95" y1="420" x2="264.95" y2="425.5" stroke="#f0f0f0" stroke-width="1"/><line x1="271.75" y1="420" x2="271.75" y2="425.5" stroke="#f0f0f0" stroke-width="1"/><line x1="278.55" y1="420" x2="278.55" y2="425.5" stroke="#f0f0f0" stroke-width="1"/><line x1="285.35" y1="420" x2="285.35" y2="425.5" stroke="#f0f0f0" stroke-width="1"/><line x1="292.15" y1="420" x2="292.15" y2="425.5" stroke="#f0f0f0" stroke-width="1"/><line x1="298.95" y1="420" x2="298.95" y2="425.5" stroke="#f0f0f0" stroke-width="1"/><line x1="305.75" y1="420" x2="305.75" y2="425.5" stroke="#f0f0f0" stroke-width="1"/><line x1="312.55" y1="420" x2="312.55" y2="425.5" stroke="#f0f0f0" stroke-width="1"/><line x1="319.35" y1="420" x2="319.35" y2="425.5" stroke="#f0f0f0" stroke-width="1"/><line x1="326.15" y1="420" x2="326.15" y2="425.5" stroke="#f0f0f0" stroke-width="1"/><text class="yl" text-anchor="end" textLength="18" lengthAdjust="spacingAndGlyphs" transform="translate(248.45 432) rotate(-45)">2012</text><text class="yl" text-anchor="end" textLength="18" lengthAdjust="spacingAndGlyphs" transform="translate(268.85 432) rotate(-45)">2015</text><text class="yl" text-anchor="end" textLength="18" lengthAdjust="spacingAndGlyphs" transform="translate(289.25 432) rotate(-45)">2018</text><text class="yl" text-anchor="end" textLength="18" lengthAdjust="spacingAndGlyphs" transform="translate(309.65 432) rotate(-45)">2021</text><text class="yl" text-anchor="end" textLength="18" lengthAdjust="spacingAndGlyphs" transform="translate(330.05 432) rotate(-45)">2024</text><polyline points="230.95,393.95 237.75,391.35 244.55,383.15 251.35,376 258.15,374.05 264.95,371.05 271.75,369.5 278.55,366.65 285.35,366.25 292.15,364.95 298.95,360.4 305.75,363.65 312.55,362.35 319.35,359.75" fill="none" stroke="#BF8B2E" stroke-width="2.7" stroke-linejoin="round" stroke-linecap="round"/><circle cx="230.95" cy="393.95" r="2.5" fill="#BF8B2E"/><circle cx="237.75" cy="391.35" r="2.5" fill="#BF8B2E"/><circle cx="244.55" cy="383.15" r="2.5" fill="#BF8B2E"/><circle cx="251.35" cy="376" r="2.5" fill="#BF8B2E"/><circle cx="258.15" cy="374.05" r="2.5" fill="#BF8B2E"/><circle cx="264.95" cy="371.05" r="2.5" fill="#BF8B2E"/><circle cx="271.75" cy="369.5" r="2.5" fill="#BF8B2E"/><circle cx="278.55" cy="366.65" r="2.5" fill="#BF8B2E"/><circle cx="285.35" cy="366.25" r="2.5" fill="#BF8B2E"/><circle cx="292.15" cy="364.95" r="2.5" fill="#BF8B2E"/><circle cx="298.95" cy="360.4" r="2.5" fill="#BF8B2E"/><circle cx="305.75" cy="363.65" r="2.5" fill="#BF8B2E"/><circle cx="312.55" cy="362.35" r="2.5" fill="#BF8B2E"/><circle cx="319.35" cy="359.75" r="2.5" fill="#BF8B2E"/><line x1="265.15" y1="339.1" x2="265.15" y2="420" stroke="#d6d6d6" stroke-width="1" stroke-dasharray="1 1.75"/><text class="agh" text-anchor="end" x="260.4" y="349.4" textLength="27.3" lengthAdjust="spacingAndGlyphs">Agenda</text><text class="agh" text-anchor="end" x="260.4" y="359.8" textLength="17" lengthAdjust="spacingAndGlyphs">2030</text><text class="ag" text-anchor="end" x="260.4" y="349.4" textLength="27.3" lengthAdjust="spacingAndGlyphs">Agenda</text><text class="ag" text-anchor="end" x="260.4" y="359.8" textLength="17" lengthAdjust="spacingAndGlyphs">2030</text><text class="ti" x="228.95" y="333" fill="#BF8B2E" stroke="#BF8B2E" textLength="29.5" lengthAdjust="spacingAndGlyphs">Goal 12</text><path d="M400.55 340.7A38.7 38.7 0 0 1 414.53 343.31L408.46 358.98A21.9 21.9 0 0 0 400.55 357.5Z" fill="#E5243B" fill-opacity="0.12"/><path d="M414.53 343.31A38.7 38.7 0 0 1 426.62 350.8L415.3 363.22A21.9 21.9 0 0 0 408.46 358.98Z" fill="#DDA63A" fill-opacity="0.12"/><path d="M426.62 350.8A38.7 38.7 0 0 1 435.19 362.15L420.15 369.64A21.9 21.9 0 0 0 415.3 363.22Z" fill="#4C9F38" fill-opacity="0.12"/><path d="M435.19 362.15A38.7 38.7 0 0 1 439.08 375.83L422.36 377.38A21.9 21.9 0 0 0 420.15 369.64Z" fill="#C5192D" fill-opacity="0.12"/><path d="M439.08 375.83A38.7 38.7 0 0 1 437.77 389.99L421.61 385.39A21.9 21.9 0 0 0 422.36 377.38Z" fill="#FF3A21" fill-opacity="0.12"/><path d="M437.77 389.99A38.7 38.7 0 0 1 431.43 402.72L418.03 392.6A21.9 21.9 0 0 0 421.61 385.39Z" fill="#26BDE2" fill-opacity="0.12"/><path d="M431.43 402.72A38.7 38.7 0 0 1 420.92 412.3L412.08 398.02A21.9 21.9 0 0 0 418.03 392.6Z" fill="#FCC30B" fill-opacity="0.12"/><path d="M420.92 412.3A38.7 38.7 0 0 1 407.66 417.44L404.57 400.93A21.9 21.9 0 0 0 412.08 398.02Z" fill="#A21942" fill-opacity="0.12"/><path d="M407.66 417.44A38.7 38.7 0 0 1 393.44 417.44L396.53 400.93A21.9 21.9 0 0 0 404.57 400.93Z" fill="#FD6925" fill-opacity="0.12"/><path d="M393.44 417.44A38.7 38.7 0 0 1 380.18 412.3L389.02 398.02A21.9 21.9 0 0 0 396.53 400.93Z" fill="#DD1367" fill-opacity="0.12"/><path d="M380.18 412.3A38.7 38.7 0 0 1 369.67 402.72L383.07 392.6A21.9 21.9 0 0 0 389.02 398.02Z" fill="#FD9D24" fill-opacity="0.12"/><path d="M369.67 402.72A38.7 38.7 0 0 1 363.33 389.99L379.49 385.39A21.9 21.9 0 0 0 383.07 392.6Z" fill="#BF8B2E" fill-opacity="0.12"/><path d="M363.33 389.99A38.7 38.7 0 0 1 362.02 375.83L378.74 377.38A21.9 21.9 0 0 0 379.49 385.39Z" fill="#3F7E44" fill-opacity="0.12"/><path d="M362.02 375.83A38.7 38.7 0 0 1 365.91 362.15L380.95 369.64A21.9 21.9 0 0 0 378.74 377.38Z" fill="#0A97D9" fill-opacity="0.12"/><path d="M365.91 362.15A38.7 38.7 0 0 1 374.48 350.8L385.8 363.22A21.9 21.9 0 0 0 380.95 369.64Z" fill="#56C02B" fill-opacity="0.12"/><path d="M374.48 350.8A38.7 38.7 0 0 1 386.57 343.31L392.64 358.98A21.9 21.9 0 0 0 385.8 363.22Z" fill="#00689D" fill-opacity="0.12"/><path d="M386.57 343.31A38.7 38.7 0 0 1 400.55 340.7L400.55 357.5A21.9 21.9 0 0 0 392.64 358.98Z" fill="#19486A" fill-opacity="0.12"/><line x1="400.55" y1="358.5" x2="400.55" y2="339.7" stroke="#fff" stroke-width="2.0"/><line x1="408.1" y1="359.91" x2="414.89" y2="342.38" stroke="#fff" stroke-width="2.0"/><line x1="414.63" y1="363.95" x2="427.3" y2="350.06" stroke="#fff" stroke-width="2.0"/><line x1="419.26" y1="370.08" x2="436.09" y2="361.7" stroke="#fff" stroke-width="2.0"/><line x1="421.36" y1="377.47" x2="440.08" y2="375.74" stroke="#fff" stroke-width="2.0"/><line x1="420.65" y1="385.12" x2="438.73" y2="390.26" stroke="#fff" stroke-width="2.0"/><line x1="417.23" y1="392" x2="432.23" y2="403.32" stroke="#fff" stroke-width="2.0"/><line x1="411.55" y1="397.17" x2="421.45" y2="413.15" stroke="#fff" stroke-width="2.0"/><line x1="404.39" y1="399.94" x2="407.84" y2="418.42" stroke="#fff" stroke-width="2.0"/><line x1="396.71" y1="399.94" x2="393.26" y2="418.42" stroke="#fff" stroke-width="2.0"/><line x1="389.55" y1="397.17" x2="379.65" y2="413.15" stroke="#fff" stroke-width="2.0"/><line x1="383.87" y1="392" x2="368.87" y2="403.32" stroke="#fff" stroke-width="2.0"/><line x1="380.45" y1="385.12" x2="362.37" y2="390.26" stroke="#fff" stroke-width="2.0"/><line x1="379.74" y1="377.47" x2="361.02" y2="375.74" stroke="#fff" stroke-width="2.0"/><line x1="381.84" y1="370.08" x2="365.01" y2="361.7" stroke="#fff" stroke-width="2.0"/><line x1="386.47" y1="363.95" x2="373.8" y2="350.06" stroke="#fff" stroke-width="2.0"/><line x1="393" y1="359.91" x2="386.21" y2="342.38" stroke="#fff" stroke-width="2.0"/><line x1="349.45" y1="420" x2="450.75" y2="420" stroke="#f0f0f0" stroke-width="1"/><line x1="352.65" y1="420" x2="352.65" y2="425.5" stroke="#f0f0f0" stroke-width="1"/><line x1="359.45" y1="420" x2="359.45" y2="425.5" stroke="#f0f0f0" stroke-width="1"/><line x1="366.25" y1="420" x2="366.25" y2="425.5" stroke="#f0f0f0" stroke-width="1"/><line x1="373.05" y1="420" x2="373.05" y2="425.5" stroke="#f0f0f0" stroke-width="1"/><line x1="379.85" y1="420" x2="379.85" y2="425.5" stroke="#f0f0f0" stroke-width="1"/><line x1="386.65" y1="420" x2="386.65" y2="425.5" stroke="#f0f0f0" stroke-width="1"/><line x1="393.45" y1="420" x2="393.45" y2="425.5" stroke="#f0f0f0" stroke-width="1"/><line x1="400.25" y1="420" x2="400.25" y2="425.5" stroke="#f0f0f0" stroke-width="1"/><line x1="407.05" y1="420" x2="407.05" y2="425.5" stroke="#f0f0f0" stroke-width="1"/><line x1="413.85" y1="420" x2="413.85" y2="425.5" stroke="#f0f0f0" stroke-width="1"/><line x1="420.65" y1="420" x2="420.65" y2="425.5" stroke="#f0f0f0" stroke-width="1"/><line x1="427.45" y1="420" x2="427.45" y2="425.5" stroke="#f0f0f0" stroke-width="1"/><line x1="434.25" y1="420" x2="434.25" y2="425.5" stroke="#f0f0f0" stroke-width="1"/><line x1="441.05" y1="420" x2="441.05" y2="425.5" stroke="#f0f0f0" stroke-width="1"/><line x1="447.85" y1="420" x2="447.85" y2="425.5" stroke="#f0f0f0" stroke-width="1"/><text class="yl" text-anchor="end" textLength="18" lengthAdjust="spacingAndGlyphs" transform="translate(370.15 432) rotate(-45)">2012</text><text class="yl" text-anchor="end" textLength="18" lengthAdjust="spacingAndGlyphs" transform="translate(390.55 432) rotate(-45)">2015</text><text class="yl" text-anchor="end" textLength="18" lengthAdjust="spacingAndGlyphs" transform="translate(410.95 432) rotate(-45)">2018</text><text class="yl" text-anchor="end" textLength="18" lengthAdjust="spacingAndGlyphs" transform="translate(431.35 432) rotate(-45)">2021</text><text class="yl" text-anchor="end" textLength="18" lengthAdjust="spacingAndGlyphs" transform="translate(451.75 432) rotate(-45)">2024</text><polyline points="352.65,387.75 359.45,386.5 366.25,386.5 373.05,379.9 379.85,376.8 386.65,379 393.45,377.75 400.25,379.75 407.05,376.25 413.85,375.6 420.65,371.95 427.45,376.25 434.25,376.25 441.05,371.45" fill="none" stroke="#3F7E44" stroke-width="2.7" stroke-linejoin="round" stroke-linecap="round"/><circle cx="352.65" cy="387.75" r="2.5" fill="#3F7E44"/><circle cx="359.45" cy="386.5" r="2.5" fill="#3F7E44"/><circle cx="366.25" cy="386.5" r="2.5" fill="#3F7E44"/><circle cx="373.05" cy="379.9" r="2.5" fill="#3F7E44"/><circle cx="379.85" cy="376.8" r="2.5" fill="#3F7E44"/><circle cx="386.65" cy="379" r="2.5" fill="#3F7E44"/><circle cx="393.45" cy="377.75" r="2.5" fill="#3F7E44"/><circle cx="400.25" cy="379.75" r="2.5" fill="#3F7E44"/><circle cx="407.05" cy="376.25" r="2.5" fill="#3F7E44"/><circle cx="413.85" cy="375.6" r="2.5" fill="#3F7E44"/><circle cx="420.65" cy="371.95" r="2.5" fill="#3F7E44"/><circle cx="427.45" cy="376.25" r="2.5" fill="#3F7E44"/><circle cx="434.25" cy="376.25" r="2.5" fill="#3F7E44"/><circle cx="441.05" cy="371.45" r="2.5" fill="#3F7E44"/><line x1="386.85" y1="339.1" x2="386.85" y2="420" stroke="#d6d6d6" stroke-width="1" stroke-dasharray="1 1.75"/><text class="agh" text-anchor="end" x="382.1" y="349.4" textLength="27.3" lengthAdjust="spacingAndGlyphs">Agenda</text><text class="agh" text-anchor="end" x="382.1" y="359.8" textLength="17" lengthAdjust="spacingAndGlyphs">2030</text><text class="ag" text-anchor="end" x="382.1" y="349.4" textLength="27.3" lengthAdjust="spacingAndGlyphs">Agenda</text><text class="ag" text-anchor="end" x="382.1" y="359.8" textLength="17" lengthAdjust="spacingAndGlyphs">2030</text><text class="ti" x="350.65" y="333" fill="#3F7E44" stroke="#3F7E44" textLength="29.5" lengthAdjust="spacingAndGlyphs">Goal 13</text><path d="M522.25 340.7A38.7 38.7 0 0 1 536.23 343.31L530.16 358.98A21.9 21.9 0 0 0 522.25 357.5Z" fill="#E5243B" fill-opacity="0.12"/><path d="M536.23 343.31A38.7 38.7 0 0 1 548.32 350.8L537 363.22A21.9 21.9 0 0 0 530.16 358.98Z" fill="#DDA63A" fill-opacity="0.12"/><path d="M548.32 350.8A38.7 38.7 0 0 1 556.89 362.15L541.85 369.64A21.9 21.9 0 0 0 537 363.22Z" fill="#4C9F38" fill-opacity="0.12"/><path d="M556.89 362.15A38.7 38.7 0 0 1 560.78 375.83L544.06 377.38A21.9 21.9 0 0 0 541.85 369.64Z" fill="#C5192D" fill-opacity="0.12"/><path d="M560.78 375.83A38.7 38.7 0 0 1 559.47 389.99L543.31 385.39A21.9 21.9 0 0 0 544.06 377.38Z" fill="#FF3A21" fill-opacity="0.12"/><path d="M559.47 389.99A38.7 38.7 0 0 1 553.13 402.72L539.73 392.6A21.9 21.9 0 0 0 543.31 385.39Z" fill="#26BDE2" fill-opacity="0.12"/><path d="M553.13 402.72A38.7 38.7 0 0 1 542.62 412.3L533.78 398.02A21.9 21.9 0 0 0 539.73 392.6Z" fill="#FCC30B" fill-opacity="0.12"/><path d="M542.62 412.3A38.7 38.7 0 0 1 529.36 417.44L526.27 400.93A21.9 21.9 0 0 0 533.78 398.02Z" fill="#A21942" fill-opacity="0.12"/><path d="M529.36 417.44A38.7 38.7 0 0 1 515.14 417.44L518.23 400.93A21.9 21.9 0 0 0 526.27 400.93Z" fill="#FD6925" fill-opacity="0.12"/><path d="M515.14 417.44A38.7 38.7 0 0 1 501.88 412.3L510.72 398.02A21.9 21.9 0 0 0 518.23 400.93Z" fill="#DD1367" fill-opacity="0.12"/><path d="M501.88 412.3A38.7 38.7 0 0 1 491.37 402.72L504.77 392.6A21.9 21.9 0 0 0 510.72 398.02Z" fill="#FD9D24" fill-opacity="0.12"/><path d="M491.37 402.72A38.7 38.7 0 0 1 485.03 389.99L501.19 385.39A21.9 21.9 0 0 0 504.77 392.6Z" fill="#BF8B2E" fill-opacity="0.12"/><path d="M485.03 389.99A38.7 38.7 0 0 1 483.72 375.83L500.44 377.38A21.9 21.9 0 0 0 501.19 385.39Z" fill="#3F7E44" fill-opacity="0.12"/><path d="M483.72 375.83A38.7 38.7 0 0 1 487.61 362.15L502.65 369.64A21.9 21.9 0 0 0 500.44 377.38Z" fill="#0A97D9" fill-opacity="0.12"/><path d="M487.61 362.15A38.7 38.7 0 0 1 496.18 350.8L507.5 363.22A21.9 21.9 0 0 0 502.65 369.64Z" fill="#56C02B" fill-opacity="0.12"/><path d="M496.18 350.8A38.7 38.7 0 0 1 508.27 343.31L514.34 358.98A21.9 21.9 0 0 0 507.5 363.22Z" fill="#00689D" fill-opacity="0.12"/><path d="M508.27 343.31A38.7 38.7 0 0 1 522.25 340.7L522.25 357.5A21.9 21.9 0 0 0 514.34 358.98Z" fill="#19486A" fill-opacity="0.12"/><line x1="522.25" y1="358.5" x2="522.25" y2="339.7" stroke="#fff" stroke-width="2.0"/><line x1="529.8" y1="359.91" x2="536.59" y2="342.38" stroke="#fff" stroke-width="2.0"/><line x1="536.33" y1="363.95" x2="549" y2="350.06" stroke="#fff" stroke-width="2.0"/><line x1="540.96" y1="370.08" x2="557.79" y2="361.7" stroke="#fff" stroke-width="2.0"/><line x1="543.06" y1="377.47" x2="561.78" y2="375.74" stroke="#fff" stroke-width="2.0"/><line x1="542.35" y1="385.12" x2="560.43" y2="390.26" stroke="#fff" stroke-width="2.0"/><line x1="538.93" y1="392" x2="553.93" y2="403.32" stroke="#fff" stroke-width="2.0"/><line x1="533.25" y1="397.17" x2="543.15" y2="413.15" stroke="#fff" stroke-width="2.0"/><line x1="526.09" y1="399.94" x2="529.54" y2="418.42" stroke="#fff" stroke-width="2.0"/><line x1="518.41" y1="399.94" x2="514.96" y2="418.42" stroke="#fff" stroke-width="2.0"/><line x1="511.25" y1="397.17" x2="501.35" y2="413.15" stroke="#fff" stroke-width="2.0"/><line x1="505.57" y1="392" x2="490.57" y2="403.32" stroke="#fff" stroke-width="2.0"/><line x1="502.15" y1="385.12" x2="484.07" y2="390.26" stroke="#fff" stroke-width="2.0"/><line x1="501.44" y1="377.47" x2="482.72" y2="375.74" stroke="#fff" stroke-width="2.0"/><line x1="503.54" y1="370.08" x2="486.71" y2="361.7" stroke="#fff" stroke-width="2.0"/><line x1="508.17" y1="363.95" x2="495.5" y2="350.06" stroke="#fff" stroke-width="2.0"/><line x1="514.7" y1="359.91" x2="507.91" y2="342.38" stroke="#fff" stroke-width="2.0"/><line x1="471.15" y1="420" x2="572.45" y2="420" stroke="#f0f0f0" stroke-width="1"/><line x1="474.35" y1="420" x2="474.35" y2="425.5" stroke="#f0f0f0" stroke-width="1"/><line x1="481.15" y1="420" x2="481.15" y2="425.5" stroke="#f0f0f0" stroke-width="1"/><line x1="487.95" y1="420" x2="487.95" y2="425.5" stroke="#f0f0f0" stroke-width="1"/><line x1="494.75" y1="420" x2="494.75" y2="425.5" stroke="#f0f0f0" stroke-width="1"/><line x1="501.55" y1="420" x2="501.55" y2="425.5" stroke="#f0f0f0" stroke-width="1"/><line x1="508.35" y1="420" x2="508.35" y2="425.5" stroke="#f0f0f0" stroke-width="1"/><line x1="515.15" y1="420" x2="515.15" y2="425.5" stroke="#f0f0f0" stroke-width="1"/><line x1="521.95" y1="420" x2="521.95" y2="425.5" stroke="#f0f0f0" stroke-width="1"/><line x1="528.75" y1="420" x2="528.75" y2="425.5" stroke="#f0f0f0" stroke-width="1"/><line x1="535.55" y1="420" x2="535.55" y2="425.5" stroke="#f0f0f0" stroke-width="1"/><line x1="542.35" y1="420" x2="542.35" y2="425.5" stroke="#f0f0f0" stroke-width="1"/><line x1="549.15" y1="420" x2="549.15" y2="425.5" stroke="#f0f0f0" stroke-width="1"/><line x1="555.95" y1="420" x2="555.95" y2="425.5" stroke="#f0f0f0" stroke-width="1"/><line x1="562.75" y1="420" x2="562.75" y2="425.5" stroke="#f0f0f0" stroke-width="1"/><line x1="569.55" y1="420" x2="569.55" y2="425.5" stroke="#f0f0f0" stroke-width="1"/><text class="yl" text-anchor="end" textLength="18" lengthAdjust="spacingAndGlyphs" transform="translate(491.85 432) rotate(-45)">2012</text><text class="yl" text-anchor="end" textLength="18" lengthAdjust="spacingAndGlyphs" transform="translate(512.25 432) rotate(-45)">2015</text><text class="yl" text-anchor="end" textLength="18" lengthAdjust="spacingAndGlyphs" transform="translate(532.65 432) rotate(-45)">2018</text><text class="yl" text-anchor="end" textLength="18" lengthAdjust="spacingAndGlyphs" transform="translate(553.05 432) rotate(-45)">2021</text><text class="yl" text-anchor="end" textLength="18" lengthAdjust="spacingAndGlyphs" transform="translate(573.45 432) rotate(-45)">2024</text><polyline points="474.35,393.8 481.15,395.35 487.95,395.35 494.75,393.65 501.55,397.55 508.35,386.65 515.15,388.6 521.95,395.35 528.75,393.15 535.55,397.05 542.35,383 549.15,379.35 555.95,381.05 562.75,380.15" fill="none" stroke="#0A97D9" stroke-width="2.7" stroke-linejoin="round" stroke-linecap="round"/><circle cx="474.35" cy="393.8" r="2.5" fill="#0A97D9"/><circle cx="481.15" cy="395.35" r="2.5" fill="#0A97D9"/><circle cx="487.95" cy="395.35" r="2.5" fill="#0A97D9"/><circle cx="494.75" cy="393.65" r="2.5" fill="#0A97D9"/><circle cx="501.55" cy="397.55" r="2.5" fill="#0A97D9"/><circle cx="508.35" cy="386.65" r="2.5" fill="#0A97D9"/><circle cx="515.15" cy="388.6" r="2.5" fill="#0A97D9"/><circle cx="521.95" cy="395.35" r="2.5" fill="#0A97D9"/><circle cx="528.75" cy="393.15" r="2.5" fill="#0A97D9"/><circle cx="535.55" cy="397.05" r="2.5" fill="#0A97D9"/><circle cx="542.35" cy="383" r="2.5" fill="#0A97D9"/><circle cx="549.15" cy="379.35" r="2.5" fill="#0A97D9"/><circle cx="555.95" cy="381.05" r="2.5" fill="#0A97D9"/><circle cx="562.75" cy="380.15" r="2.5" fill="#0A97D9"/><line x1="508.55" y1="339.1" x2="508.55" y2="420" stroke="#d6d6d6" stroke-width="1" stroke-dasharray="1 1.75"/><text class="agh" text-anchor="end" x="503.8" y="349.4" textLength="27.3" lengthAdjust="spacingAndGlyphs">Agenda</text><text class="agh" text-anchor="end" x="503.8" y="359.8" textLength="17" lengthAdjust="spacingAndGlyphs">2030</text><text class="ag" text-anchor="end" x="503.8" y="349.4" textLength="27.3" lengthAdjust="spacingAndGlyphs">Agenda</text><text class="ag" text-anchor="end" x="503.8" y="359.8" textLength="17" lengthAdjust="spacingAndGlyphs">2030</text><text class="ti" x="472.35" y="333" fill="#0A97D9" stroke="#0A97D9" textLength="29.5" lengthAdjust="spacingAndGlyphs">Goal 14</text><path d="M643.95 340.7A38.7 38.7 0 0 1 657.93 343.31L651.86 358.98A21.9 21.9 0 0 0 643.95 357.5Z" fill="#E5243B" fill-opacity="0.12"/><path d="M657.93 343.31A38.7 38.7 0 0 1 670.02 350.8L658.7 363.22A21.9 21.9 0 0 0 651.86 358.98Z" fill="#DDA63A" fill-opacity="0.12"/><path d="M670.02 350.8A38.7 38.7 0 0 1 678.59 362.15L663.55 369.64A21.9 21.9 0 0 0 658.7 363.22Z" fill="#4C9F38" fill-opacity="0.12"/><path d="M678.59 362.15A38.7 38.7 0 0 1 682.48 375.83L665.76 377.38A21.9 21.9 0 0 0 663.55 369.64Z" fill="#C5192D" fill-opacity="0.12"/><path d="M682.48 375.83A38.7 38.7 0 0 1 681.17 389.99L665.01 385.39A21.9 21.9 0 0 0 665.76 377.38Z" fill="#FF3A21" fill-opacity="0.12"/><path d="M681.17 389.99A38.7 38.7 0 0 1 674.83 402.72L661.43 392.6A21.9 21.9 0 0 0 665.01 385.39Z" fill="#26BDE2" fill-opacity="0.12"/><path d="M674.83 402.72A38.7 38.7 0 0 1 664.32 412.3L655.48 398.02A21.9 21.9 0 0 0 661.43 392.6Z" fill="#FCC30B" fill-opacity="0.12"/><path d="M664.32 412.3A38.7 38.7 0 0 1 651.06 417.44L647.97 400.93A21.9 21.9 0 0 0 655.48 398.02Z" fill="#A21942" fill-opacity="0.12"/><path d="M651.06 417.44A38.7 38.7 0 0 1 636.84 417.44L639.93 400.93A21.9 21.9 0 0 0 647.97 400.93Z" fill="#FD6925" fill-opacity="0.12"/><path d="M636.84 417.44A38.7 38.7 0 0 1 623.58 412.3L632.42 398.02A21.9 21.9 0 0 0 639.93 400.93Z" fill="#DD1367" fill-opacity="0.12"/><path d="M623.58 412.3A38.7 38.7 0 0 1 613.07 402.72L626.47 392.6A21.9 21.9 0 0 0 632.42 398.02Z" fill="#FD9D24" fill-opacity="0.12"/><path d="M613.07 402.72A38.7 38.7 0 0 1 606.73 389.99L622.89 385.39A21.9 21.9 0 0 0 626.47 392.6Z" fill="#BF8B2E" fill-opacity="0.12"/><path d="M606.73 389.99A38.7 38.7 0 0 1 605.42 375.83L622.14 377.38A21.9 21.9 0 0 0 622.89 385.39Z" fill="#3F7E44" fill-opacity="0.12"/><path d="M605.42 375.83A38.7 38.7 0 0 1 609.31 362.15L624.35 369.64A21.9 21.9 0 0 0 622.14 377.38Z" fill="#0A97D9" fill-opacity="0.12"/><path d="M609.31 362.15A38.7 38.7 0 0 1 617.88 350.8L629.2 363.22A21.9 21.9 0 0 0 624.35 369.64Z" fill="#56C02B" fill-opacity="0.12"/><path d="M617.88 350.8A38.7 38.7 0 0 1 629.97 343.31L636.04 358.98A21.9 21.9 0 0 0 629.2 363.22Z" fill="#00689D" fill-opacity="0.12"/><path d="M629.97 343.31A38.7 38.7 0 0 1 643.95 340.7L643.95 357.5A21.9 21.9 0 0 0 636.04 358.98Z" fill="#19486A" fill-opacity="0.12"/><line x1="643.95" y1="358.5" x2="643.95" y2="339.7" stroke="#fff" stroke-width="2.0"/><line x1="651.5" y1="359.91" x2="658.29" y2="342.38" stroke="#fff" stroke-width="2.0"/><line x1="658.03" y1="363.95" x2="670.7" y2="350.06" stroke="#fff" stroke-width="2.0"/><line x1="662.66" y1="370.08" x2="679.49" y2="361.7" stroke="#fff" stroke-width="2.0"/><line x1="664.76" y1="377.47" x2="683.48" y2="375.74" stroke="#fff" stroke-width="2.0"/><line x1="664.05" y1="385.12" x2="682.13" y2="390.26" stroke="#fff" stroke-width="2.0"/><line x1="660.63" y1="392" x2="675.63" y2="403.32" stroke="#fff" stroke-width="2.0"/><line x1="654.95" y1="397.17" x2="664.85" y2="413.15" stroke="#fff" stroke-width="2.0"/><line x1="647.79" y1="399.94" x2="651.24" y2="418.42" stroke="#fff" stroke-width="2.0"/><line x1="640.11" y1="399.94" x2="636.66" y2="418.42" stroke="#fff" stroke-width="2.0"/><line x1="632.95" y1="397.17" x2="623.05" y2="413.15" stroke="#fff" stroke-width="2.0"/><line x1="627.27" y1="392" x2="612.27" y2="403.32" stroke="#fff" stroke-width="2.0"/><line x1="623.85" y1="385.12" x2="605.77" y2="390.26" stroke="#fff" stroke-width="2.0"/><line x1="623.14" y1="377.47" x2="604.42" y2="375.74" stroke="#fff" stroke-width="2.0"/><line x1="625.24" y1="370.08" x2="608.41" y2="361.7" stroke="#fff" stroke-width="2.0"/><line x1="629.87" y1="363.95" x2="617.2" y2="350.06" stroke="#fff" stroke-width="2.0"/><line x1="636.4" y1="359.91" x2="629.61" y2="342.38" stroke="#fff" stroke-width="2.0"/><line x1="592.85" y1="420" x2="694.15" y2="420" stroke="#f0f0f0" stroke-width="1"/><line x1="596.05" y1="420" x2="596.05" y2="425.5" stroke="#f0f0f0" stroke-width="1"/><line x1="602.85" y1="420" x2="602.85" y2="425.5" stroke="#f0f0f0" stroke-width="1"/><line x1="609.65" y1="420" x2="609.65" y2="425.5" stroke="#f0f0f0" stroke-width="1"/><line x1="616.45" y1="420" x2="616.45" y2="425.5" stroke="#f0f0f0" stroke-width="1"/><line x1="623.25" y1="420" x2="623.25" y2="425.5" stroke="#f0f0f0" stroke-width="1"/><line x1="630.05" y1="420" x2="630.05" y2="425.5" stroke="#f0f0f0" stroke-width="1"/><line x1="636.85" y1="420" x2="636.85" y2="425.5" stroke="#f0f0f0" stroke-width="1"/><line x1="643.65" y1="420" x2="643.65" y2="425.5" stroke="#f0f0f0" stroke-width="1"/><line x1="650.45" y1="420" x2="650.45" y2="425.5" stroke="#f0f0f0" stroke-width="1"/><line x1="657.25" y1="420" x2="657.25" y2="425.5" stroke="#f0f0f0" stroke-width="1"/><line x1="664.05" y1="420" x2="664.05" y2="425.5" stroke="#f0f0f0" stroke-width="1"/><line x1="670.85" y1="420" x2="670.85" y2="425.5" stroke="#f0f0f0" stroke-width="1"/><line x1="677.65" y1="420" x2="677.65" y2="425.5" stroke="#f0f0f0" stroke-width="1"/><line x1="684.45" y1="420" x2="684.45" y2="425.5" stroke="#f0f0f0" stroke-width="1"/><line x1="691.25" y1="420" x2="691.25" y2="425.5" stroke="#f0f0f0" stroke-width="1"/><text class="yl" text-anchor="end" textLength="18" lengthAdjust="spacingAndGlyphs" transform="translate(613.55 432) rotate(-45)">2012</text><text class="yl" text-anchor="end" textLength="18" lengthAdjust="spacingAndGlyphs" transform="translate(633.95 432) rotate(-45)">2015</text><text class="yl" text-anchor="end" textLength="18" lengthAdjust="spacingAndGlyphs" transform="translate(654.35 432) rotate(-45)">2018</text><text class="yl" text-anchor="end" textLength="18" lengthAdjust="spacingAndGlyphs" transform="translate(674.75 432) rotate(-45)">2021</text><text class="yl" text-anchor="end" textLength="18" lengthAdjust="spacingAndGlyphs" transform="translate(695.15 432) rotate(-45)">2024</text><polyline points="596.05,393.75 602.85,396.35 609.65,398.3 616.45,399.85 623.25,401.55 630.05,402.85 636.85,404.15 643.65,405.45 650.45,407.15 657.25,408.7 664.05,410.25 670.85,411.95 677.65,414.15 684.45,416.25" fill="none" stroke="#56C02B" stroke-width="2.7" stroke-linejoin="round" stroke-linecap="round"/><circle cx="596.05" cy="393.75" r="2.5" fill="#56C02B"/><circle cx="602.85" cy="396.35" r="2.5" fill="#56C02B"/><circle cx="609.65" cy="398.3" r="2.5" fill="#56C02B"/><circle cx="616.45" cy="399.85" r="2.5" fill="#56C02B"/><circle cx="623.25" cy="401.55" r="2.5" fill="#56C02B"/><circle cx="630.05" cy="402.85" r="2.5" fill="#56C02B"/><circle cx="636.85" cy="404.15" r="2.5" fill="#56C02B"/><circle cx="643.65" cy="405.45" r="2.5" fill="#56C02B"/><circle cx="650.45" cy="407.15" r="2.5" fill="#56C02B"/><circle cx="657.25" cy="408.7" r="2.5" fill="#56C02B"/><circle cx="664.05" cy="410.25" r="2.5" fill="#56C02B"/><circle cx="670.85" cy="411.95" r="2.5" fill="#56C02B"/><circle cx="677.65" cy="414.15" r="2.5" fill="#56C02B"/><circle cx="684.45" cy="416.25" r="2.5" fill="#56C02B"/><line x1="630.25" y1="339.1" x2="630.25" y2="420" stroke="#d6d6d6" stroke-width="1" stroke-dasharray="1 1.75"/><text class="agh" text-anchor="end" x="625.5" y="349.4" textLength="27.3" lengthAdjust="spacingAndGlyphs">Agenda</text><text class="agh" text-anchor="end" x="625.5" y="359.8" textLength="17" lengthAdjust="spacingAndGlyphs">2030</text><text class="ag" text-anchor="end" x="625.5" y="349.4" textLength="27.3" lengthAdjust="spacingAndGlyphs">Agenda</text><text class="ag" text-anchor="end" x="625.5" y="359.8" textLength="17" lengthAdjust="spacingAndGlyphs">2030</text><text class="ti" x="594.05" y="333" fill="#56C02B" stroke="#56C02B" textLength="29.5" lengthAdjust="spacingAndGlyphs">Goal 15</text><path d="M157.15 481.5A38.7 38.7 0 0 1 171.13 484.11L165.06 499.78A21.9 21.9 0 0 0 157.15 498.3Z" fill="#E5243B" fill-opacity="0.12"/><path d="M171.13 484.11A38.7 38.7 0 0 1 183.22 491.6L171.9 504.02A21.9 21.9 0 0 0 165.06 499.78Z" fill="#DDA63A" fill-opacity="0.12"/><path d="M183.22 491.6A38.7 38.7 0 0 1 191.79 502.95L176.75 510.44A21.9 21.9 0 0 0 171.9 504.02Z" fill="#4C9F38" fill-opacity="0.12"/><path d="M191.79 502.95A38.7 38.7 0 0 1 195.68 516.63L178.96 518.18A21.9 21.9 0 0 0 176.75 510.44Z" fill="#C5192D" fill-opacity="0.12"/><path d="M195.68 516.63A38.7 38.7 0 0 1 194.37 530.79L178.21 526.19A21.9 21.9 0 0 0 178.96 518.18Z" fill="#FF3A21" fill-opacity="0.12"/><path d="M194.37 530.79A38.7 38.7 0 0 1 188.03 543.52L174.63 533.4A21.9 21.9 0 0 0 178.21 526.19Z" fill="#26BDE2" fill-opacity="0.12"/><path d="M188.03 543.52A38.7 38.7 0 0 1 177.52 553.1L168.68 538.82A21.9 21.9 0 0 0 174.63 533.4Z" fill="#FCC30B" fill-opacity="0.12"/><path d="M177.52 553.1A38.7 38.7 0 0 1 164.26 558.24L161.17 541.73A21.9 21.9 0 0 0 168.68 538.82Z" fill="#A21942" fill-opacity="0.12"/><path d="M164.26 558.24A38.7 38.7 0 0 1 150.04 558.24L153.13 541.73A21.9 21.9 0 0 0 161.17 541.73Z" fill="#FD6925" fill-opacity="0.12"/><path d="M150.04 558.24A38.7 38.7 0 0 1 136.78 553.1L145.62 538.82A21.9 21.9 0 0 0 153.13 541.73Z" fill="#DD1367" fill-opacity="0.12"/><path d="M136.78 553.1A38.7 38.7 0 0 1 126.27 543.52L139.67 533.4A21.9 21.9 0 0 0 145.62 538.82Z" fill="#FD9D24" fill-opacity="0.12"/><path d="M126.27 543.52A38.7 38.7 0 0 1 119.93 530.79L136.09 526.19A21.9 21.9 0 0 0 139.67 533.4Z" fill="#BF8B2E" fill-opacity="0.12"/><path d="M119.93 530.79A38.7 38.7 0 0 1 118.62 516.63L135.34 518.18A21.9 21.9 0 0 0 136.09 526.19Z" fill="#3F7E44" fill-opacity="0.12"/><path d="M118.62 516.63A38.7 38.7 0 0 1 122.51 502.95L137.55 510.44A21.9 21.9 0 0 0 135.34 518.18Z" fill="#0A97D9" fill-opacity="0.12"/><path d="M122.51 502.95A38.7 38.7 0 0 1 131.08 491.6L142.4 504.02A21.9 21.9 0 0 0 137.55 510.44Z" fill="#56C02B" fill-opacity="0.12"/><path d="M131.08 491.6A38.7 38.7 0 0 1 143.17 484.11L149.24 499.78A21.9 21.9 0 0 0 142.4 504.02Z" fill="#00689D" fill-opacity="0.12"/><path d="M143.17 484.11A38.7 38.7 0 0 1 157.15 481.5L157.15 498.3A21.9 21.9 0 0 0 149.24 499.78Z" fill="#19486A" fill-opacity="0.12"/><line x1="157.15" y1="499.3" x2="157.15" y2="480.5" stroke="#fff" stroke-width="2.0"/><line x1="164.7" y1="500.71" x2="171.49" y2="483.18" stroke="#fff" stroke-width="2.0"/><line x1="171.23" y1="504.75" x2="183.9" y2="490.86" stroke="#fff" stroke-width="2.0"/><line x1="175.86" y1="510.88" x2="192.69" y2="502.5" stroke="#fff" stroke-width="2.0"/><line x1="177.96" y1="518.27" x2="196.68" y2="516.54" stroke="#fff" stroke-width="2.0"/><line x1="177.25" y1="525.92" x2="195.33" y2="531.06" stroke="#fff" stroke-width="2.0"/><line x1="173.83" y1="532.8" x2="188.83" y2="544.12" stroke="#fff" stroke-width="2.0"/><line x1="168.15" y1="537.97" x2="178.05" y2="553.95" stroke="#fff" stroke-width="2.0"/><line x1="160.99" y1="540.74" x2="164.44" y2="559.22" stroke="#fff" stroke-width="2.0"/><line x1="153.31" y1="540.74" x2="149.86" y2="559.22" stroke="#fff" stroke-width="2.0"/><line x1="146.15" y1="537.97" x2="136.25" y2="553.95" stroke="#fff" stroke-width="2.0"/><line x1="140.47" y1="532.8" x2="125.47" y2="544.12" stroke="#fff" stroke-width="2.0"/><line x1="137.05" y1="525.92" x2="118.97" y2="531.06" stroke="#fff" stroke-width="2.0"/><line x1="136.34" y1="518.27" x2="117.62" y2="516.54" stroke="#fff" stroke-width="2.0"/><line x1="138.44" y1="510.88" x2="121.61" y2="502.5" stroke="#fff" stroke-width="2.0"/><line x1="143.07" y1="504.75" x2="130.4" y2="490.86" stroke="#fff" stroke-width="2.0"/><line x1="149.6" y1="500.71" x2="142.81" y2="483.18" stroke="#fff" stroke-width="2.0"/><line x1="106.05" y1="560.8" x2="207.35" y2="560.8" stroke="#f0f0f0" stroke-width="1"/><line x1="109.25" y1="560.8" x2="109.25" y2="566.3" stroke="#f0f0f0" stroke-width="1"/><line x1="116.05" y1="560.8" x2="116.05" y2="566.3" stroke="#f0f0f0" stroke-width="1"/><line x1="122.85" y1="560.8" x2="122.85" y2="566.3" stroke="#f0f0f0" stroke-width="1"/><line x1="129.65" y1="560.8" x2="129.65" y2="566.3" stroke="#f0f0f0" stroke-width="1"/><line x1="136.45" y1="560.8" x2="136.45" y2="566.3" stroke="#f0f0f0" stroke-width="1"/><line x1="143.25" y1="560.8" x2="143.25" y2="566.3" stroke="#f0f0f0" stroke-width="1"/><line x1="150.05" y1="560.8" x2="150.05" y2="566.3" stroke="#f0f0f0" stroke-width="1"/><line x1="156.85" y1="560.8" x2="156.85" y2="566.3" stroke="#f0f0f0" stroke-width="1"/><line x1="163.65" y1="560.8" x2="163.65" y2="566.3" stroke="#f0f0f0" stroke-width="1"/><line x1="170.45" y1="560.8" x2="170.45" y2="566.3" stroke="#f0f0f0" stroke-width="1"/><line x1="177.25" y1="560.8" x2="177.25" y2="566.3" stroke="#f0f0f0" stroke-width="1"/><line x1="184.05" y1="560.8" x2="184.05" y2="566.3" stroke="#f0f0f0" stroke-width="1"/><line x1="190.85" y1="560.8" x2="190.85" y2="566.3" stroke="#f0f0f0" stroke-width="1"/><line x1="197.65" y1="560.8" x2="197.65" y2="566.3" stroke="#f0f0f0" stroke-width="1"/><line x1="204.45" y1="560.8" x2="204.45" y2="566.3" stroke="#f0f0f0" stroke-width="1"/><text class="yl" text-anchor="end" textLength="18" lengthAdjust="spacingAndGlyphs" transform="translate(126.75 572.8) rotate(-45)">2012</text><text class="yl" text-anchor="end" textLength="18" lengthAdjust="spacingAndGlyphs" transform="translate(147.15 572.8) rotate(-45)">2015</text><text class="yl" text-anchor="end" textLength="18" lengthAdjust="spacingAndGlyphs" transform="translate(167.55 572.8) rotate(-45)">2018</text><text class="yl" text-anchor="end" textLength="18" lengthAdjust="spacingAndGlyphs" transform="translate(187.95 572.8) rotate(-45)">2021</text><text class="yl" text-anchor="end" textLength="18" lengthAdjust="spacingAndGlyphs" transform="translate(208.35 572.8) rotate(-45)">2024</text><polyline points="109.25,534.85 116.05,536.4 122.85,537.45 129.65,538.75 136.45,535.75 143.25,533.55 150.05,531.85 156.85,531.6 163.65,532 170.45,531.6 177.25,530.3 184.05,543.05 190.85,538.35 197.65,543.55 204.45,543.3" fill="none" stroke="#00689D" stroke-width="2.7" stroke-linejoin="round" stroke-linecap="round"/><circle cx="109.25" cy="534.85" r="2.5" fill="#00689D"/><circle cx="116.05" cy="536.4" r="2.5" fill="#00689D"/><circle cx="122.85" cy="537.45" r="2.5" fill="#00689D"/><circle cx="129.65" cy="538.75" r="2.5" fill="#00689D"/><circle cx="136.45" cy="535.75" r="2.5" fill="#00689D"/><circle cx="143.25" cy="533.55" r="2.5" fill="#00689D"/><circle cx="150.05" cy="531.85" r="2.5" fill="#00689D"/><circle cx="156.85" cy="531.6" r="2.5" fill="#00689D"/><circle cx="163.65" cy="532" r="2.5" fill="#00689D"/><circle cx="170.45" cy="531.6" r="2.5" fill="#00689D"/><circle cx="177.25" cy="530.3" r="2.5" fill="#00689D"/><circle cx="184.05" cy="543.05" r="2.5" fill="#00689D"/><circle cx="190.85" cy="538.35" r="2.5" fill="#00689D"/><circle cx="197.65" cy="543.55" r="2.5" fill="#00689D"/><circle cx="204.45" cy="543.3" r="2.5" fill="#00689D"/><line x1="143.45" y1="479.9" x2="143.45" y2="560.8" stroke="#d6d6d6" stroke-width="1" stroke-dasharray="1 1.75"/><text class="agh" text-anchor="end" x="138.7" y="490.2" textLength="27.3" lengthAdjust="spacingAndGlyphs">Agenda</text><text class="agh" text-anchor="end" x="138.7" y="500.6" textLength="17" lengthAdjust="spacingAndGlyphs">2030</text><text class="ag" text-anchor="end" x="138.7" y="490.2" textLength="27.3" lengthAdjust="spacingAndGlyphs">Agenda</text><text class="ag" text-anchor="end" x="138.7" y="500.6" textLength="17" lengthAdjust="spacingAndGlyphs">2030</text><text class="ti" x="107.25" y="473.8" fill="#00689D" stroke="#00689D" textLength="29.5" lengthAdjust="spacingAndGlyphs">Goal 16</text><path d="M278.85 481.5A38.7 38.7 0 0 1 292.83 484.11L286.76 499.78A21.9 21.9 0 0 0 278.85 498.3Z" fill="#E5243B" fill-opacity="0.12"/><path d="M292.83 484.11A38.7 38.7 0 0 1 304.92 491.6L293.6 504.02A21.9 21.9 0 0 0 286.76 499.78Z" fill="#DDA63A" fill-opacity="0.12"/><path d="M304.92 491.6A38.7 38.7 0 0 1 313.49 502.95L298.45 510.44A21.9 21.9 0 0 0 293.6 504.02Z" fill="#4C9F38" fill-opacity="0.12"/><path d="M313.49 502.95A38.7 38.7 0 0 1 317.38 516.63L300.66 518.18A21.9 21.9 0 0 0 298.45 510.44Z" fill="#C5192D" fill-opacity="0.12"/><path d="M317.38 516.63A38.7 38.7 0 0 1 316.07 530.79L299.91 526.19A21.9 21.9 0 0 0 300.66 518.18Z" fill="#FF3A21" fill-opacity="0.12"/><path d="M316.07 530.79A38.7 38.7 0 0 1 309.73 543.52L296.33 533.4A21.9 21.9 0 0 0 299.91 526.19Z" fill="#26BDE2" fill-opacity="0.12"/><path d="M309.73 543.52A38.7 38.7 0 0 1 299.22 553.1L290.38 538.82A21.9 21.9 0 0 0 296.33 533.4Z" fill="#FCC30B" fill-opacity="0.12"/><path d="M299.22 553.1A38.7 38.7 0 0 1 285.96 558.24L282.87 541.73A21.9 21.9 0 0 0 290.38 538.82Z" fill="#A21942" fill-opacity="0.12"/><path d="M285.96 558.24A38.7 38.7 0 0 1 271.74 558.24L274.83 541.73A21.9 21.9 0 0 0 282.87 541.73Z" fill="#FD6925" fill-opacity="0.12"/><path d="M271.74 558.24A38.7 38.7 0 0 1 258.48 553.1L267.32 538.82A21.9 21.9 0 0 0 274.83 541.73Z" fill="#DD1367" fill-opacity="0.12"/><path d="M258.48 553.1A38.7 38.7 0 0 1 247.97 543.52L261.37 533.4A21.9 21.9 0 0 0 267.32 538.82Z" fill="#FD9D24" fill-opacity="0.12"/><path d="M247.97 543.52A38.7 38.7 0 0 1 241.63 530.79L257.79 526.19A21.9 21.9 0 0 0 261.37 533.4Z" fill="#BF8B2E" fill-opacity="0.12"/><path d="M241.63 530.79A38.7 38.7 0 0 1 240.32 516.63L257.04 518.18A21.9 21.9 0 0 0 257.79 526.19Z" fill="#3F7E44" fill-opacity="0.12"/><path d="M240.32 516.63A38.7 38.7 0 0 1 244.21 502.95L259.25 510.44A21.9 21.9 0 0 0 257.04 518.18Z" fill="#0A97D9" fill-opacity="0.12"/><path d="M244.21 502.95A38.7 38.7 0 0 1 252.78 491.6L264.1 504.02A21.9 21.9 0 0 0 259.25 510.44Z" fill="#56C02B" fill-opacity="0.12"/><path d="M252.78 491.6A38.7 38.7 0 0 1 264.87 484.11L270.94 499.78A21.9 21.9 0 0 0 264.1 504.02Z" fill="#00689D" fill-opacity="0.12"/><path d="M264.87 484.11A38.7 38.7 0 0 1 278.85 481.5L278.85 498.3A21.9 21.9 0 0 0 270.94 499.78Z" fill="#19486A" fill-opacity="0.12"/><line x1="278.85" y1="499.3" x2="278.85" y2="480.5" stroke="#fff" stroke-width="2.0"/><line x1="286.4" y1="500.71" x2="293.19" y2="483.18" stroke="#fff" stroke-width="2.0"/><line x1="292.93" y1="504.75" x2="305.6" y2="490.86" stroke="#fff" stroke-width="2.0"/><line x1="297.56" y1="510.88" x2="314.39" y2="502.5" stroke="#fff" stroke-width="2.0"/><line x1="299.66" y1="518.27" x2="318.38" y2="516.54" stroke="#fff" stroke-width="2.0"/><line x1="298.95" y1="525.92" x2="317.03" y2="531.06" stroke="#fff" stroke-width="2.0"/><line x1="295.53" y1="532.8" x2="310.53" y2="544.12" stroke="#fff" stroke-width="2.0"/><line x1="289.85" y1="537.97" x2="299.75" y2="553.95" stroke="#fff" stroke-width="2.0"/><line x1="282.69" y1="540.74" x2="286.14" y2="559.22" stroke="#fff" stroke-width="2.0"/><line x1="275.01" y1="540.74" x2="271.56" y2="559.22" stroke="#fff" stroke-width="2.0"/><line x1="267.85" y1="537.97" x2="257.95" y2="553.95" stroke="#fff" stroke-width="2.0"/><line x1="262.17" y1="532.8" x2="247.17" y2="544.12" stroke="#fff" stroke-width="2.0"/><line x1="258.75" y1="525.92" x2="240.67" y2="531.06" stroke="#fff" stroke-width="2.0"/><line x1="258.04" y1="518.27" x2="239.32" y2="516.54" stroke="#fff" stroke-width="2.0"/><line x1="260.14" y1="510.88" x2="243.31" y2="502.5" stroke="#fff" stroke-width="2.0"/><line x1="264.77" y1="504.75" x2="252.1" y2="490.86" stroke="#fff" stroke-width="2.0"/><line x1="271.3" y1="500.71" x2="264.51" y2="483.18" stroke="#fff" stroke-width="2.0"/><line x1="227.75" y1="560.8" x2="329.05" y2="560.8" stroke="#f0f0f0" stroke-width="1"/><line x1="230.95" y1="560.8" x2="230.95" y2="566.3" stroke="#f0f0f0" stroke-width="1"/><line x1="237.75" y1="560.8" x2="237.75" y2="566.3" stroke="#f0f0f0" stroke-width="1"/><line x1="244.55" y1="560.8" x2="244.55" y2="566.3" stroke="#f0f0f0" stroke-width="1"/><line x1="251.35" y1="560.8" x2="251.35" y2="566.3" stroke="#f0f0f0" stroke-width="1"/><line x1="258.15" y1="560.8" x2="258.15" y2="566.3" stroke="#f0f0f0" stroke-width="1"/><line x1="264.95" y1="560.8" x2="264.95" y2="566.3" stroke="#f0f0f0" stroke-width="1"/><line x1="271.75" y1="560.8" x2="271.75" y2="566.3" stroke="#f0f0f0" stroke-width="1"/><line x1="278.55" y1="560.8" x2="278.55" y2="566.3" stroke="#f0f0f0" stroke-width="1"/><line x1="285.35" y1="560.8" x2="285.35" y2="566.3" stroke="#f0f0f0" stroke-width="1"/><line x1="292.15" y1="560.8" x2="292.15" y2="566.3" stroke="#f0f0f0" stroke-width="1"/><line x1="298.95" y1="560.8" x2="298.95" y2="566.3" stroke="#f0f0f0" stroke-width="1"/><line x1="305.75" y1="560.8" x2="305.75" y2="566.3" stroke="#f0f0f0" stroke-width="1"/><line x1="312.55" y1="560.8" x2="312.55" y2="566.3" stroke="#f0f0f0" stroke-width="1"/><line x1="319.35" y1="560.8" x2="319.35" y2="566.3" stroke="#f0f0f0" stroke-width="1"/><line x1="326.15" y1="560.8" x2="326.15" y2="566.3" stroke="#f0f0f0" stroke-width="1"/><text class="yl" text-anchor="end" textLength="18" lengthAdjust="spacingAndGlyphs" transform="translate(248.45 572.8) rotate(-45)">2012</text><text class="yl" text-anchor="end" textLength="18" lengthAdjust="spacingAndGlyphs" transform="translate(268.85 572.8) rotate(-45)">2015</text><text class="yl" text-anchor="end" textLength="18" lengthAdjust="spacingAndGlyphs" transform="translate(289.25 572.8) rotate(-45)">2018</text><text class="yl" text-anchor="end" textLength="18" lengthAdjust="spacingAndGlyphs" transform="translate(309.65 572.8) rotate(-45)">2021</text><text class="yl" text-anchor="end" textLength="18" lengthAdjust="spacingAndGlyphs" transform="translate(330.05 572.8) rotate(-45)">2024</text><polyline points="230.95,540 237.75,551.25 244.55,557.65 251.35,557.9 258.15,560.4 264.95,559.3 271.75,558.75 278.55,557.3 285.35,557.3 292.15,557.55 298.95,564.45 305.75,557.55 312.55,544.05 319.35,548.45" fill="none" stroke="#19486A" stroke-width="2.7" stroke-linejoin="round" stroke-linecap="round"/><circle cx="230.95" cy="540" r="2.5" fill="#19486A"/><circle cx="237.75" cy="551.25" r="2.5" fill="#19486A"/><circle cx="244.55" cy="557.65" r="2.5" fill="#19486A"/><circle cx="251.35" cy="557.9" r="2.5" fill="#19486A"/><circle cx="258.15" cy="560.4" r="2.5" fill="#19486A"/><circle cx="264.95" cy="559.3" r="2.5" fill="#19486A"/><circle cx="271.75" cy="558.75" r="2.5" fill="#19486A"/><circle cx="278.55" cy="557.3" r="2.5" fill="#19486A"/><circle cx="285.35" cy="557.3" r="2.5" fill="#19486A"/><circle cx="292.15" cy="557.55" r="2.5" fill="#19486A"/><circle cx="298.95" cy="564.45" r="2.5" fill="#19486A"/><circle cx="305.75" cy="557.55" r="2.5" fill="#19486A"/><circle cx="312.55" cy="544.05" r="2.5" fill="#19486A"/><circle cx="319.35" cy="548.45" r="2.5" fill="#19486A"/><line x1="265.15" y1="479.9" x2="265.15" y2="560.8" stroke="#d6d6d6" stroke-width="1" stroke-dasharray="1 1.75"/><text class="agh" text-anchor="end" x="260.4" y="490.2" textLength="27.3" lengthAdjust="spacingAndGlyphs">Agenda</text><text class="agh" text-anchor="end" x="260.4" y="500.6" textLength="17" lengthAdjust="spacingAndGlyphs">2030</text><text class="ag" text-anchor="end" x="260.4" y="490.2" textLength="27.3" lengthAdjust="spacingAndGlyphs">Agenda</text><text class="ag" text-anchor="end" x="260.4" y="500.6" textLength="17" lengthAdjust="spacingAndGlyphs">2030</text><text class="ti" x="228.95" y="473.8" fill="#19486A" stroke="#19486A" textLength="29.5" lengthAdjust="spacingAndGlyphs">Goal 17</text><rect x="668.5" y="598.6" width="2.6" height="1.4" fill="#E5243B" fill-opacity="0.25"/><rect x="671.6" y="598.6" width="2.4" height="1.4" fill="#4C9F38" fill-opacity="0.15"/></svg></body></html>
